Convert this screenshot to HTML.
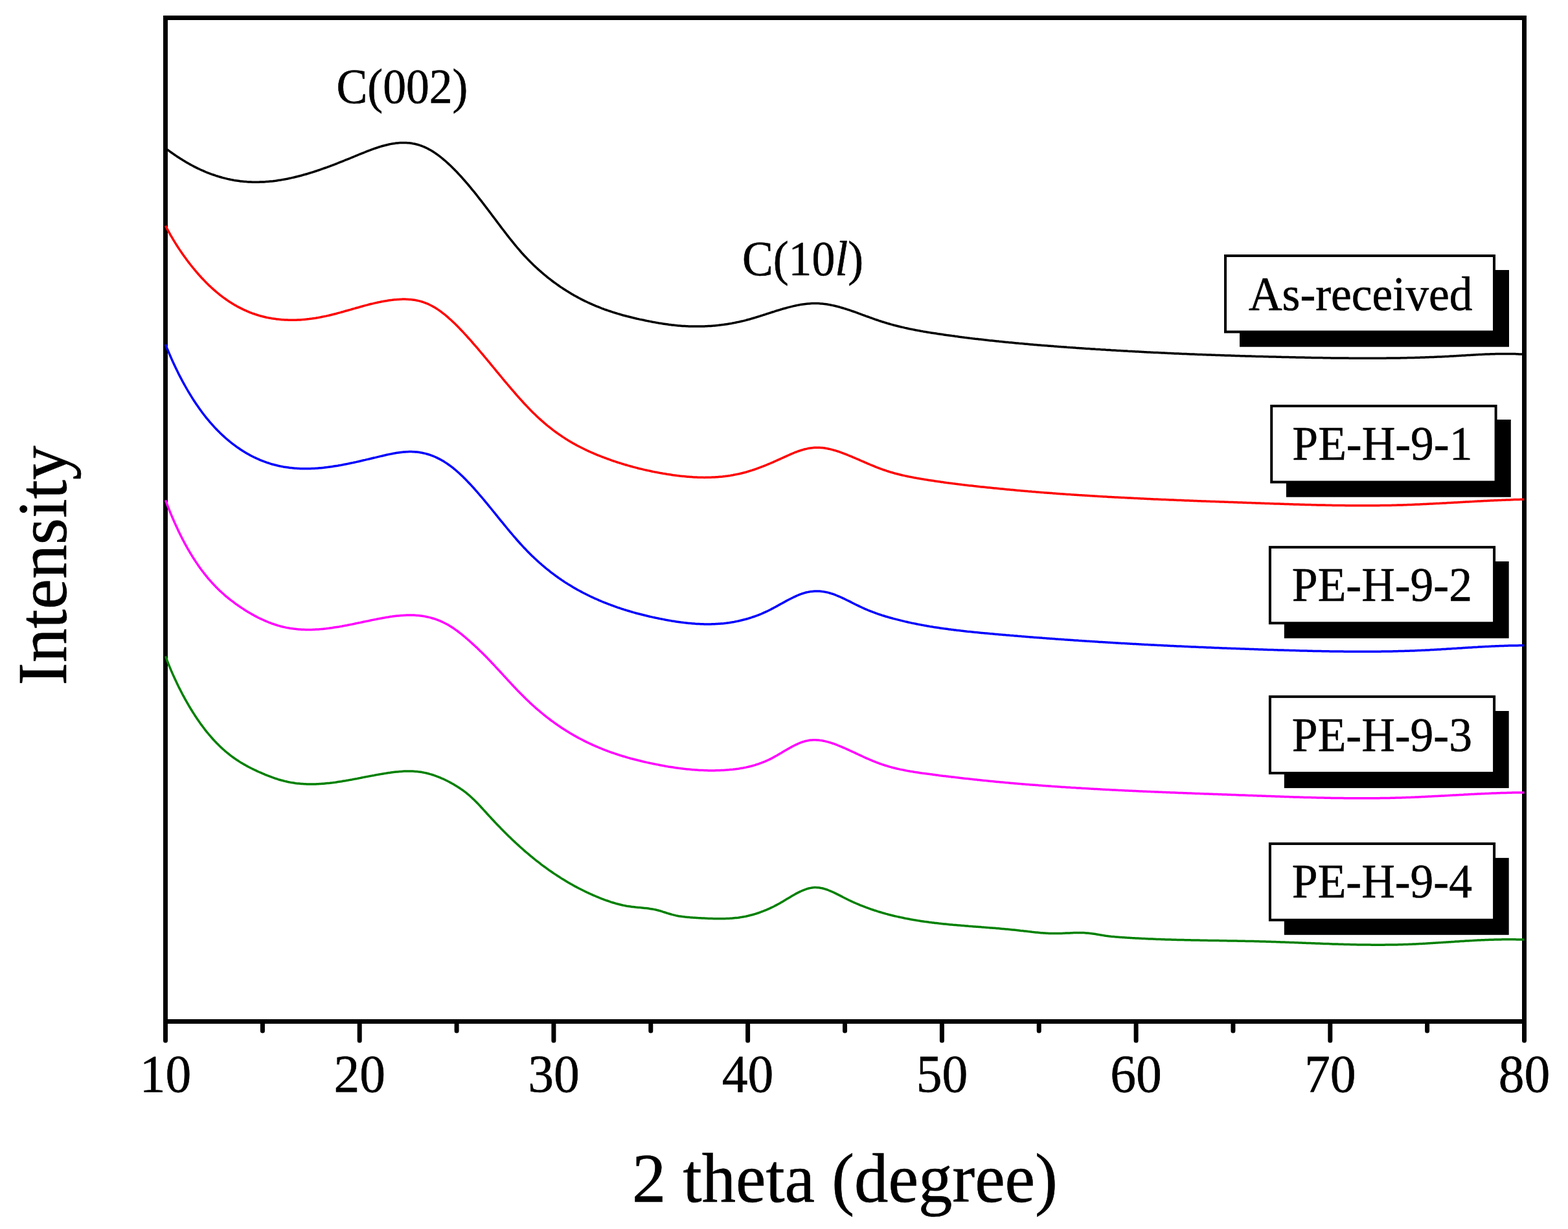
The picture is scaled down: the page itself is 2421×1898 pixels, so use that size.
<!DOCTYPE html>
<html><head><meta charset="utf-8"><title>XRD patterns</title>
<style>html,body{margin:0;padding:0;background:#fff;width:2421px;height:1898px;overflow:hidden}svg{display:block}</style>
</head><body>
<svg width="2421" height="1898" viewBox="0 0 2421 1898">
<rect width="2421" height="1898" fill="#fff"/>
<rect x="255.5" y="27.5" width="2098" height="1550" fill="none" stroke="#000" stroke-width="7"/>
<line x1="255.5" y1="1578" x2="255.5" y2="1607" stroke="#000" stroke-width="7" stroke-linecap="round"/>
<line x1="405.4" y1="1578" x2="405.4" y2="1592" stroke="#000" stroke-width="7" stroke-linecap="round"/>
<line x1="555.2" y1="1578" x2="555.2" y2="1607" stroke="#000" stroke-width="7" stroke-linecap="round"/>
<line x1="705.1" y1="1578" x2="705.1" y2="1592" stroke="#000" stroke-width="7" stroke-linecap="round"/>
<line x1="854.9" y1="1578" x2="854.9" y2="1607" stroke="#000" stroke-width="7" stroke-linecap="round"/>
<line x1="1004.8" y1="1578" x2="1004.8" y2="1592" stroke="#000" stroke-width="7" stroke-linecap="round"/>
<line x1="1154.6" y1="1578" x2="1154.6" y2="1607" stroke="#000" stroke-width="7" stroke-linecap="round"/>
<line x1="1304.5" y1="1578" x2="1304.5" y2="1592" stroke="#000" stroke-width="7" stroke-linecap="round"/>
<line x1="1454.4" y1="1578" x2="1454.4" y2="1607" stroke="#000" stroke-width="7" stroke-linecap="round"/>
<line x1="1604.2" y1="1578" x2="1604.2" y2="1592" stroke="#000" stroke-width="7" stroke-linecap="round"/>
<line x1="1754.1" y1="1578" x2="1754.1" y2="1607" stroke="#000" stroke-width="7" stroke-linecap="round"/>
<line x1="1903.9" y1="1578" x2="1903.9" y2="1592" stroke="#000" stroke-width="7" stroke-linecap="round"/>
<line x1="2053.8" y1="1578" x2="2053.8" y2="1607" stroke="#000" stroke-width="7" stroke-linecap="round"/>
<line x1="2203.6" y1="1578" x2="2203.6" y2="1592" stroke="#000" stroke-width="7" stroke-linecap="round"/>
<line x1="2353.5" y1="1578" x2="2353.5" y2="1607" stroke="#000" stroke-width="7" stroke-linecap="round"/>
<path d="M255.5,228.8L257.5,230.3L259.5,231.8L261.5,233.3L263.5,234.8L265.5,236.2L267.5,237.6L269.5,239.0L271.5,240.4L273.5,241.7L275.5,243.0L277.5,244.3L279.5,245.6L281.5,246.8L283.5,248.1L285.5,249.3L287.5,250.5L289.5,251.6L291.5,252.8L293.5,253.9L295.5,255.0L297.5,256.0L299.5,257.1L301.5,258.1L303.5,259.1L305.5,260.1L307.5,261.0L309.5,262.0L311.5,262.9L313.5,263.7L315.5,264.6L317.5,265.5L319.5,266.3L321.5,267.1L323.5,267.8L325.5,268.6L327.5,269.3L329.5,270.0L331.5,270.7L333.5,271.4L335.5,272.0L337.5,272.6L339.5,273.2L341.5,273.8L343.5,274.4L345.5,274.9L347.5,275.4L349.5,275.9L351.5,276.4L353.5,276.8L355.5,277.2L357.5,277.6L359.5,278.0L361.5,278.4L363.5,278.7L365.5,279.0L367.5,279.3L369.5,279.6L371.5,279.9L373.5,280.1L375.5,280.3L377.5,280.5L379.5,280.6L381.5,280.8L383.5,280.9L385.5,281.0L387.5,281.1L389.5,281.2L391.5,281.2L393.5,281.2L395.5,281.2L397.5,281.2L399.5,281.2L401.5,281.1L403.5,281.1L405.5,281.0L407.5,280.9L409.5,280.8L411.5,280.6L413.5,280.5L415.5,280.3L417.5,280.1L419.5,279.9L421.5,279.7L423.5,279.4L425.5,279.2L427.5,278.9L429.5,278.6L431.5,278.3L433.5,278.0L435.5,277.6L437.5,277.3L439.5,276.9L441.5,276.6L443.5,276.2L445.5,275.8L447.5,275.3L449.5,274.9L451.5,274.4L453.5,274.0L455.5,273.5L457.5,273.0L459.5,272.5L461.5,272.0L463.5,271.5L465.5,271.0L467.5,270.4L469.5,269.8L471.5,269.3L473.5,268.7L475.5,268.1L477.5,267.5L479.5,266.9L481.5,266.3L483.5,265.6L485.5,265.0L487.5,264.3L489.5,263.7L491.5,263.0L493.5,262.3L495.5,261.6L497.5,260.9L499.5,260.2L501.5,259.5L503.5,258.8L505.5,258.1L507.5,257.3L509.5,256.6L511.5,255.8L513.5,255.1L515.5,254.3L517.5,253.6L519.5,252.8L521.5,252.0L523.5,251.2L525.5,250.4L527.5,249.6L529.5,248.8L531.5,248.0L533.5,247.2L535.5,246.4L537.5,245.6L539.5,244.8L541.5,244.0L543.5,243.1L545.5,242.3L547.5,241.5L549.5,240.7L551.5,239.9L553.5,239.0L555.5,238.2L557.5,237.4L559.5,236.6L561.5,235.8L563.5,235.0L565.5,234.2L567.5,233.4L569.5,232.6L571.5,231.9L573.5,231.1L575.5,230.4L577.5,229.7L579.5,229.0L581.5,228.3L583.5,227.7L585.5,227.0L587.5,226.4L589.5,225.8L591.5,225.2L593.5,224.7L595.5,224.2L597.5,223.7L599.5,223.2L601.5,222.8L603.5,222.4L605.5,222.0L607.5,221.7L609.5,221.4L611.5,221.1L613.5,220.9L615.5,220.7L617.5,220.6L619.5,220.5L621.5,220.4L623.5,220.4L625.5,220.4L627.5,220.5L629.5,220.7L631.5,220.8L633.5,221.0L635.5,221.3L637.5,221.7L639.5,222.0L641.5,222.5L643.5,223.0L645.5,223.5L647.5,224.1L649.5,224.8L651.5,225.5L653.5,226.3L655.5,227.2L657.5,228.1L659.5,229.0L661.5,230.1L663.5,231.2L665.5,232.3L667.5,233.5L669.5,234.8L671.5,236.1L673.5,237.5L675.5,238.9L677.5,240.4L679.5,241.9L681.5,243.5L683.5,245.1L685.5,246.8L687.5,248.5L689.5,250.3L691.5,252.1L693.5,253.9L695.5,255.8L697.5,257.7L699.5,259.7L701.5,261.7L703.5,263.8L705.5,265.8L707.5,268.0L709.5,270.1L711.5,272.3L713.5,274.5L715.5,276.8L717.5,279.0L719.5,281.3L721.5,283.7L723.5,286.0L725.5,288.4L727.5,290.9L729.5,293.3L731.5,295.7L733.5,298.2L735.5,300.7L737.5,303.3L739.5,305.8L741.5,308.4L743.5,310.9L745.5,313.5L747.5,316.1L749.5,318.7L751.5,321.4L753.5,324.0L755.5,326.6L757.5,329.3L759.5,332.0L761.5,334.6L763.5,337.3L765.5,339.9L767.5,342.6L769.5,345.3L771.5,347.9L773.5,350.6L775.5,353.2L777.5,355.8L779.5,358.4L781.5,361.0L783.5,363.6L785.5,366.1L787.5,368.7L789.5,371.2L791.5,373.7L793.5,376.1L795.5,378.6L797.5,381.0L799.5,383.3L801.5,385.7L803.5,388.0L805.5,390.3L807.5,392.5L809.5,394.7L811.5,396.8L813.5,398.9L815.5,401.0L817.5,403.0L819.5,405.1L821.5,407.0L823.5,409.0L825.5,410.9L827.5,412.7L829.5,414.6L831.5,416.4L833.5,418.2L835.5,419.9L837.5,421.7L839.5,423.3L841.5,425.0L843.5,426.7L845.5,428.3L847.5,429.9L849.5,431.4L851.5,433.0L853.5,434.5L855.5,436.0L857.5,437.4L859.5,438.9L861.5,440.3L863.5,441.7L865.5,443.1L867.5,444.4L869.5,445.7L871.5,447.0L873.5,448.3L875.5,449.6L877.5,450.8L879.5,452.0L881.5,453.2L883.5,454.4L885.5,455.6L887.5,456.7L889.5,457.8L891.5,458.9L893.5,460.0L895.5,461.0L897.5,462.1L899.5,463.1L901.5,464.1L903.5,465.1L905.5,466.0L907.5,467.0L909.5,467.9L911.5,468.8L913.5,469.7L915.5,470.6L917.5,471.4L919.5,472.3L921.5,473.1L923.5,473.9L925.5,474.7L927.5,475.5L929.5,476.3L931.5,477.0L933.5,477.8L935.5,478.5L937.5,479.2L939.5,479.9L941.5,480.5L943.5,481.2L945.5,481.9L947.5,482.5L949.5,483.1L951.5,483.7L953.5,484.4L955.5,484.9L957.5,485.5L959.5,486.1L961.5,486.7L963.5,487.2L965.5,487.7L967.5,488.3L969.5,488.8L971.5,489.3L973.5,489.8L975.5,490.3L977.5,490.8L979.5,491.2L981.5,491.7L983.5,492.2L985.5,492.6L987.5,493.1L989.5,493.5L991.5,493.9L993.5,494.3L995.5,494.8L997.5,495.2L999.5,495.6L1001.5,496.0L1003.5,496.4L1005.5,496.8L1007.5,497.2L1009.5,497.5L1011.5,497.9L1013.5,498.3L1015.5,498.6L1017.5,499.0L1019.5,499.3L1021.5,499.6L1023.5,499.9L1025.5,500.2L1027.5,500.5L1029.5,500.8L1031.5,501.1L1033.5,501.4L1035.5,501.6L1037.5,501.9L1039.5,502.1L1041.5,502.3L1043.5,502.5L1045.5,502.7L1047.5,502.9L1049.5,503.0L1051.5,503.2L1053.5,503.4L1055.5,503.5L1057.5,503.6L1059.5,503.7L1061.5,503.8L1063.5,503.9L1065.5,504.0L1067.5,504.0L1069.5,504.1L1071.5,504.1L1073.5,504.1L1075.5,504.1L1077.5,504.1L1079.5,504.1L1081.5,504.1L1083.5,504.0L1085.5,504.0L1087.5,503.9L1089.5,503.8L1091.5,503.7L1093.5,503.6L1095.5,503.5L1097.5,503.4L1099.5,503.2L1101.5,503.1L1103.5,502.9L1105.5,502.7L1107.5,502.5L1109.5,502.3L1111.5,502.0L1113.5,501.8L1115.5,501.5L1117.5,501.3L1119.5,501.0L1121.5,500.7L1123.5,500.4L1125.5,500.1L1127.5,499.7L1129.5,499.4L1131.5,499.0L1133.5,498.6L1135.5,498.2L1137.5,497.8L1139.5,497.4L1141.5,497.0L1143.5,496.5L1145.5,496.0L1147.5,495.6L1149.5,495.1L1151.5,494.6L1153.5,494.0L1155.5,493.5L1157.5,493.0L1159.5,492.4L1161.5,491.8L1163.5,491.2L1165.5,490.6L1167.5,490.0L1169.5,489.4L1171.5,488.8L1173.5,488.1L1175.5,487.5L1177.5,486.9L1179.5,486.2L1181.5,485.6L1183.5,484.9L1185.5,484.3L1187.5,483.6L1189.5,483.0L1191.5,482.3L1193.5,481.7L1195.5,481.1L1197.5,480.4L1199.5,479.8L1201.5,479.2L1203.5,478.6L1205.5,478.0L1207.5,477.4L1209.5,476.8L1211.5,476.2L1213.5,475.7L1215.5,475.1L1217.5,474.6L1219.5,474.1L1221.5,473.6L1223.5,473.1L1225.5,472.6L1227.5,472.2L1229.5,471.8L1231.5,471.4L1233.5,471.0L1235.5,470.6L1237.5,470.3L1239.5,470.0L1241.5,469.7L1243.5,469.4L1245.5,469.2L1247.5,469.0L1249.5,468.9L1251.5,468.7L1253.5,468.6L1255.5,468.6L1257.5,468.5L1259.5,468.5L1261.5,468.5L1263.5,468.6L1265.5,468.7L1267.5,468.9L1269.5,469.0L1271.5,469.3L1273.5,469.5L1275.5,469.8L1277.5,470.1L1279.5,470.4L1281.5,470.8L1283.5,471.2L1285.5,471.6L1287.5,472.0L1289.5,472.5L1291.5,473.0L1293.5,473.5L1295.5,474.0L1297.5,474.6L1299.5,475.2L1301.5,475.8L1303.5,476.4L1305.5,477.0L1307.5,477.6L1309.5,478.3L1311.5,478.9L1313.5,479.6L1315.5,480.3L1317.5,481.0L1319.5,481.7L1321.5,482.4L1323.5,483.1L1325.5,483.9L1327.5,484.6L1329.5,485.3L1331.5,486.1L1333.5,486.8L1335.5,487.5L1337.5,488.3L1339.5,489.0L1341.5,489.7L1343.5,490.5L1345.5,491.2L1347.5,491.9L1349.5,492.6L1351.5,493.3L1353.5,494.0L1355.5,494.7L1357.5,495.4L1359.5,496.0L1361.5,496.7L1363.5,497.3L1365.5,497.9L1367.5,498.5L1369.5,499.1L1371.5,499.7L1373.5,500.3L1375.5,500.9L1377.5,501.4L1379.5,502.0L1381.5,502.5L1383.5,503.0L1385.5,503.5L1387.5,504.0L1389.5,504.5L1391.5,505.0L1393.5,505.4L1395.5,505.9L1397.5,506.4L1399.5,506.8L1401.5,507.2L1403.5,507.7L1405.5,508.1L1407.5,508.5L1409.5,508.9L1411.5,509.3L1413.5,509.7L1415.5,510.1L1417.5,510.4L1419.5,510.8L1421.5,511.2L1423.5,511.5L1425.5,511.9L1427.5,512.2L1429.5,512.6L1431.5,512.9L1433.5,513.2L1435.5,513.6L1437.5,513.9L1439.5,514.2L1441.5,514.5L1443.5,514.8L1445.5,515.1L1447.5,515.4L1449.5,515.7L1451.5,516.0L1453.5,516.3L1455.5,516.6L1457.5,516.9L1459.5,517.2L1461.5,517.5L1463.5,517.7L1465.5,518.0L1467.5,518.3L1469.5,518.6L1471.5,518.8L1473.5,519.1L1475.5,519.4L1477.5,519.6L1479.5,519.9L1481.5,520.2L1483.5,520.4L1485.5,520.7L1487.5,520.9L1489.5,521.2L1491.5,521.4L1493.5,521.7L1495.5,521.9L1497.5,522.2L1499.5,522.4L1501.5,522.7L1503.5,522.9L1505.5,523.2L1507.5,523.4L1509.5,523.6L1511.5,523.9L1513.5,524.1L1515.5,524.3L1517.5,524.5L1519.5,524.8L1521.5,525.0L1523.5,525.2L1525.5,525.4L1527.5,525.7L1529.5,525.9L1531.5,526.1L1533.5,526.3L1535.5,526.5L1537.5,526.7L1539.5,526.9L1541.5,527.1L1543.5,527.4L1545.5,527.6L1547.5,527.8L1549.5,528.0L1551.5,528.2L1553.5,528.4L1555.5,528.6L1557.5,528.8L1559.5,528.9L1561.5,529.1L1563.5,529.3L1565.5,529.5L1567.5,529.7L1569.5,529.9L1571.5,530.1L1573.5,530.3L1575.5,530.4L1577.5,530.6L1579.5,530.8L1581.5,531.0L1583.5,531.2L1585.5,531.3L1587.5,531.5L1589.5,531.7L1591.5,531.9L1593.5,532.0L1595.5,532.2L1597.5,532.4L1599.5,532.5L1601.5,532.7L1603.5,532.9L1605.5,533.0L1607.5,533.2L1609.5,533.4L1611.5,533.5L1613.5,533.7L1615.5,533.8L1617.5,534.0L1619.5,534.2L1621.5,534.3L1623.5,534.5L1625.5,534.6L1627.5,534.8L1629.5,534.9L1631.5,535.1L1633.5,535.2L1635.5,535.4L1637.5,535.5L1639.5,535.7L1641.5,535.8L1643.5,536.0L1645.5,536.1L1647.5,536.3L1649.5,536.4L1651.5,536.6L1653.5,536.7L1655.5,536.8L1657.5,537.0L1659.5,537.1L1661.5,537.3L1663.5,537.4L1665.5,537.5L1667.5,537.7L1669.5,537.8L1671.5,537.9L1673.5,538.1L1675.5,538.2L1677.5,538.4L1679.5,538.5L1681.5,538.6L1683.5,538.7L1685.5,538.9L1687.5,539.0L1689.5,539.1L1691.5,539.3L1693.5,539.4L1695.5,539.5L1697.5,539.6L1699.5,539.8L1701.5,539.9L1703.5,540.0L1705.5,540.1L1707.5,540.3L1709.5,540.4L1711.5,540.5L1713.5,540.6L1715.5,540.8L1717.5,540.9L1719.5,541.0L1721.5,541.1L1723.5,541.2L1725.5,541.4L1727.5,541.5L1729.5,541.6L1731.5,541.7L1733.5,541.8L1735.5,541.9L1737.5,542.0L1739.5,542.1L1741.5,542.3L1743.5,542.4L1745.5,542.5L1747.5,542.6L1749.5,542.7L1751.5,542.8L1753.5,542.9L1755.5,543.0L1757.5,543.1L1759.5,543.2L1761.5,543.3L1763.5,543.4L1765.5,543.5L1767.5,543.7L1769.5,543.8L1771.5,543.9L1773.5,544.0L1775.5,544.1L1777.5,544.2L1779.5,544.3L1781.5,544.4L1783.5,544.5L1785.5,544.6L1787.5,544.6L1789.5,544.7L1791.5,544.8L1793.5,544.9L1795.5,545.0L1797.5,545.1L1799.5,545.2L1801.5,545.3L1803.5,545.4L1805.5,545.5L1807.5,545.6L1809.5,545.7L1811.5,545.8L1813.5,545.9L1815.5,545.9L1817.5,546.0L1819.5,546.1L1821.5,546.2L1823.5,546.3L1825.5,546.4L1827.5,546.5L1829.5,546.5L1831.5,546.6L1833.5,546.7L1835.5,546.8L1837.5,546.9L1839.5,547.0L1841.5,547.0L1843.5,547.1L1845.5,547.2L1847.5,547.3L1849.5,547.4L1851.5,547.4L1853.5,547.5L1855.5,547.6L1857.5,547.7L1859.5,547.7L1861.5,547.8L1863.5,547.9L1865.5,548.0L1867.5,548.0L1869.5,548.1L1871.5,548.2L1873.5,548.3L1875.5,548.3L1877.5,548.4L1879.5,548.5L1881.5,548.5L1883.5,548.6L1885.5,548.7L1887.5,548.7L1889.5,548.8L1891.5,548.9L1893.5,548.9L1895.5,549.0L1897.5,549.1L1899.5,549.1L1901.5,549.2L1903.5,549.3L1905.5,549.3L1907.5,549.4L1909.5,549.5L1911.5,549.5L1913.5,549.6L1915.5,549.7L1917.5,549.7L1919.5,549.8L1921.5,549.8L1923.5,549.9L1925.5,550.0L1927.5,550.0L1929.5,550.1L1931.5,550.1L1933.5,550.2L1935.5,550.2L1937.5,550.3L1939.5,550.4L1941.5,550.4L1943.5,550.5L1945.5,550.5L1947.5,550.6L1949.5,550.6L1951.5,550.7L1953.5,550.7L1955.5,550.8L1957.5,550.8L1959.5,550.9L1961.5,550.9L1963.5,551.0L1965.5,551.0L1967.5,551.1L1969.5,551.1L1971.5,551.2L1973.5,551.2L1975.5,551.3L1977.5,551.3L1979.5,551.4L1981.5,551.4L1983.5,551.5L1985.5,551.5L1987.5,551.6L1989.5,551.6L1991.5,551.7L1993.5,551.7L1995.5,551.7L1997.5,551.8L1999.5,551.8L2001.5,551.9L2003.5,551.9L2005.5,552.0L2007.5,552.0L2009.5,552.0L2011.5,552.1L2013.5,552.1L2015.5,552.2L2017.5,552.2L2019.5,552.2L2021.5,552.3L2023.5,552.3L2025.5,552.4L2027.5,552.4L2029.5,552.4L2031.5,552.5L2033.5,552.5L2035.5,552.5L2037.5,552.6L2039.5,552.6L2041.5,552.6L2043.5,552.7L2045.5,552.7L2047.5,552.7L2049.5,552.8L2051.5,552.8L2053.5,552.8L2055.5,552.9L2057.5,552.9L2059.5,552.9L2061.5,552.9L2063.5,553.0L2065.5,553.0L2067.5,553.0L2069.5,553.0L2071.5,553.0L2073.5,553.1L2075.5,553.1L2077.5,553.1L2079.5,553.1L2081.5,553.1L2083.5,553.2L2085.5,553.2L2087.5,553.2L2089.5,553.2L2091.5,553.2L2093.5,553.2L2095.5,553.2L2097.5,553.2L2099.5,553.3L2101.5,553.3L2103.5,553.3L2105.5,553.3L2107.5,553.3L2109.5,553.3L2111.5,553.3L2113.5,553.3L2115.5,553.3L2117.5,553.3L2119.5,553.3L2121.5,553.3L2123.5,553.3L2125.5,553.2L2127.5,553.2L2129.5,553.2L2131.5,553.2L2133.5,553.2L2135.5,553.2L2137.5,553.2L2139.5,553.2L2141.5,553.1L2143.5,553.1L2145.5,553.1L2147.5,553.1L2149.5,553.0L2151.5,553.0L2153.5,553.0L2155.5,553.0L2157.5,552.9L2159.5,552.9L2161.5,552.9L2163.5,552.8L2165.5,552.8L2167.5,552.8L2169.5,552.7L2171.5,552.7L2173.5,552.6L2175.5,552.6L2177.5,552.5L2179.5,552.5L2181.5,552.4L2183.5,552.4L2185.5,552.3L2187.5,552.3L2189.5,552.2L2191.5,552.2L2193.5,552.1L2195.5,552.0L2197.5,552.0L2199.5,551.9L2201.5,551.8L2203.5,551.8L2205.5,551.7L2207.5,551.6L2209.5,551.5L2211.5,551.5L2213.5,551.4L2215.5,551.3L2217.5,551.2L2219.5,551.1L2221.5,551.0L2223.5,550.9L2225.5,550.9L2227.5,550.8L2229.5,550.7L2231.5,550.6L2233.5,550.5L2235.5,550.4L2237.5,550.2L2239.5,550.1L2241.5,550.0L2243.5,549.9L2245.5,549.8L2247.5,549.7L2249.5,549.6L2251.5,549.5L2253.5,549.3L2255.5,549.2L2257.5,549.1L2259.5,549.0L2261.5,548.9L2263.5,548.7L2265.5,548.6L2267.5,548.5L2269.5,548.4L2271.5,548.3L2273.5,548.2L2275.5,548.0L2277.5,547.9L2279.5,547.8L2281.5,547.7L2283.5,547.6L2285.5,547.5L2287.5,547.4L2289.5,547.3L2291.5,547.2L2293.5,547.1L2295.5,547.1L2297.5,547.0L2299.5,546.9L2301.5,546.8L2303.5,546.8L2305.5,546.7L2307.5,546.7L2309.5,546.6L2311.5,546.6L2313.5,546.5L2315.5,546.5L2317.5,546.5L2319.5,546.4L2321.5,546.4L2323.5,546.4L2325.5,546.4L2327.5,546.4L2329.5,546.4L2331.5,546.5L2333.5,546.5L2335.5,546.5L2337.5,546.6L2339.5,546.6L2341.5,546.7L2343.5,546.8L2345.5,546.9L2347.5,547.0L2349.5,547.1L2351.5,547.2L2353.5,547.3" fill="none" stroke="#000000" stroke-width="3.5" stroke-linejoin="round"/>
<path d="M255.5,348.6L257.5,352.4L259.5,356.1L261.5,359.7L263.5,363.3L265.5,366.7L267.5,370.1L269.5,373.4L271.5,376.6L273.5,379.8L275.5,382.9L277.5,385.9L279.5,388.8L281.5,391.7L283.5,394.6L285.5,397.3L287.5,400.1L289.5,402.7L291.5,405.4L293.5,408.0L295.5,410.5L297.5,413.0L299.5,415.4L301.5,417.8L303.5,420.2L305.5,422.5L307.5,424.8L309.5,427.0L311.5,429.2L313.5,431.3L315.5,433.4L317.5,435.5L319.5,437.5L321.5,439.4L323.5,441.4L325.5,443.2L327.5,445.1L329.5,446.9L331.5,448.6L333.5,450.4L335.5,452.0L337.5,453.7L339.5,455.3L341.5,456.9L343.5,458.4L345.5,459.9L347.5,461.3L349.5,462.7L351.5,464.1L353.5,465.5L355.5,466.8L357.5,468.0L359.5,469.3L361.5,470.5L363.5,471.6L365.5,472.8L367.5,473.9L369.5,474.9L371.5,475.9L373.5,476.9L375.5,477.9L377.5,478.8L379.5,479.7L381.5,480.6L383.5,481.4L385.5,482.3L387.5,483.0L389.5,483.8L391.5,484.5L393.5,485.2L395.5,485.8L397.5,486.5L399.5,487.1L401.5,487.7L403.5,488.2L405.5,488.7L407.5,489.2L409.5,489.7L411.5,490.2L413.5,490.6L415.5,491.0L417.5,491.3L419.5,491.7L421.5,492.0L423.5,492.3L425.5,492.6L427.5,492.9L429.5,493.1L431.5,493.3L433.5,493.5L435.5,493.7L437.5,493.8L439.5,493.9L441.5,494.0L443.5,494.1L445.5,494.2L447.5,494.2L449.5,494.3L451.5,494.3L453.5,494.2L455.5,494.2L457.5,494.2L459.5,494.1L461.5,494.0L463.5,493.9L465.5,493.7L467.5,493.6L469.5,493.4L471.5,493.2L473.5,493.0L475.5,492.8L477.5,492.6L479.5,492.3L481.5,492.1L483.5,491.8L485.5,491.5L487.5,491.2L489.5,490.8L491.5,490.5L493.5,490.1L495.5,489.7L497.5,489.3L499.5,488.9L501.5,488.5L503.5,488.1L505.5,487.6L507.5,487.2L509.5,486.7L511.5,486.2L513.5,485.7L515.5,485.2L517.5,484.7L519.5,484.2L521.5,483.6L523.5,483.1L525.5,482.6L527.5,482.0L529.5,481.5L531.5,480.9L533.5,480.3L535.5,479.8L537.5,479.2L539.5,478.6L541.5,478.1L543.5,477.5L545.5,476.9L547.5,476.4L549.5,475.8L551.5,475.2L553.5,474.7L555.5,474.1L557.5,473.5L559.5,473.0L561.5,472.4L563.5,471.9L565.5,471.4L567.5,470.9L569.5,470.3L571.5,469.8L573.5,469.3L575.5,468.9L577.5,468.4L579.5,467.9L581.5,467.5L583.5,467.0L585.5,466.6L587.5,466.2L589.5,465.8L591.5,465.4L593.5,465.1L595.5,464.7L597.5,464.4L599.5,464.1L601.5,463.8L603.5,463.5L605.5,463.3L607.5,463.0L609.5,462.8L611.5,462.7L613.5,462.5L615.5,462.4L617.5,462.2L619.5,462.2L621.5,462.1L623.5,462.1L625.5,462.1L627.5,462.2L629.5,462.2L631.5,462.4L633.5,462.5L635.5,462.7L637.5,463.0L639.5,463.3L641.5,463.6L643.5,464.0L645.5,464.4L647.5,464.9L649.5,465.4L651.5,466.0L653.5,466.6L655.5,467.3L657.5,468.1L659.5,468.9L661.5,469.7L663.5,470.7L665.5,471.7L667.5,472.7L669.5,473.9L671.5,475.0L673.5,476.3L675.5,477.6L677.5,478.9L679.5,480.4L681.5,481.8L683.5,483.3L685.5,484.9L687.5,486.5L689.5,488.2L691.5,489.9L693.5,491.7L695.5,493.5L697.5,495.3L699.5,497.2L701.5,499.1L703.5,501.0L705.5,503.0L707.5,505.0L709.5,507.1L711.5,509.2L713.5,511.3L715.5,513.4L717.5,515.6L719.5,517.7L721.5,520.0L723.5,522.2L725.5,524.4L727.5,526.7L729.5,529.0L731.5,531.3L733.5,533.6L735.5,535.9L737.5,538.2L739.5,540.6L741.5,543.0L743.5,545.3L745.5,547.7L747.5,550.1L749.5,552.5L751.5,554.9L753.5,557.3L755.5,559.7L757.5,562.2L759.5,564.6L761.5,567.0L763.5,569.4L765.5,571.9L767.5,574.3L769.5,576.7L771.5,579.1L773.5,581.5L775.5,584.0L777.5,586.4L779.5,588.8L781.5,591.1L783.5,593.5L785.5,595.9L787.5,598.2L789.5,600.6L791.5,602.9L793.5,605.2L795.5,607.5L797.5,609.8L799.5,612.1L801.5,614.4L803.5,616.6L805.5,618.8L807.5,621.0L809.5,623.2L811.5,625.3L813.5,627.4L815.5,629.5L817.5,631.6L819.5,633.7L821.5,635.7L823.5,637.7L825.5,639.6L827.5,641.5L829.5,643.4L831.5,645.3L833.5,647.1L835.5,648.9L837.5,650.7L839.5,652.4L841.5,654.2L843.5,655.8L845.5,657.5L847.5,659.1L849.5,660.7L851.5,662.2L853.5,663.8L855.5,665.3L857.5,666.8L859.5,668.2L861.5,669.6L863.5,671.0L865.5,672.4L867.5,673.8L869.5,675.1L871.5,676.4L873.5,677.7L875.5,678.9L877.5,680.2L879.5,681.4L881.5,682.6L883.5,683.7L885.5,684.9L887.5,686.0L889.5,687.1L891.5,688.2L893.5,689.2L895.5,690.3L897.5,691.3L899.5,692.3L901.5,693.3L903.5,694.3L905.5,695.2L907.5,696.2L909.5,697.1L911.5,698.0L913.5,698.9L915.5,699.7L917.5,700.6L919.5,701.4L921.5,702.3L923.5,703.1L925.5,703.9L927.5,704.7L929.5,705.5L931.5,706.2L933.5,707.0L935.5,707.7L937.5,708.5L939.5,709.2L941.5,709.9L943.5,710.6L945.5,711.3L947.5,712.0L949.5,712.6L951.5,713.3L953.5,714.0L955.5,714.6L957.5,715.2L959.5,715.9L961.5,716.5L963.5,717.1L965.5,717.7L967.5,718.3L969.5,718.9L971.5,719.4L973.5,720.0L975.5,720.5L977.5,721.1L979.5,721.6L981.5,722.1L983.5,722.6L985.5,723.2L987.5,723.7L989.5,724.1L991.5,724.6L993.5,725.1L995.5,725.6L997.5,726.0L999.5,726.5L1001.5,726.9L1003.5,727.3L1005.5,727.7L1007.5,728.2L1009.5,728.6L1011.5,729.0L1013.5,729.3L1015.5,729.7L1017.5,730.1L1019.5,730.5L1021.5,730.8L1023.5,731.2L1025.5,731.5L1027.5,731.8L1029.5,732.2L1031.5,732.5L1033.5,732.8L1035.5,733.1L1037.5,733.4L1039.5,733.7L1041.5,733.9L1043.5,734.2L1045.5,734.5L1047.5,734.7L1049.5,735.0L1051.5,735.2L1053.5,735.4L1055.5,735.6L1057.5,735.8L1059.5,736.0L1061.5,736.2L1063.5,736.3L1065.5,736.5L1067.5,736.6L1069.5,736.8L1071.5,736.9L1073.5,737.0L1075.5,737.1L1077.5,737.2L1079.5,737.2L1081.5,737.3L1083.5,737.3L1085.5,737.3L1087.5,737.4L1089.5,737.3L1091.5,737.3L1093.5,737.3L1095.5,737.3L1097.5,737.2L1099.5,737.1L1101.5,737.0L1103.5,736.9L1105.5,736.8L1107.5,736.7L1109.5,736.5L1111.5,736.3L1113.5,736.2L1115.5,736.0L1117.5,735.7L1119.5,735.5L1121.5,735.2L1123.5,735.0L1125.5,734.7L1127.5,734.4L1129.5,734.0L1131.5,733.7L1133.5,733.3L1135.5,732.9L1137.5,732.5L1139.5,732.1L1141.5,731.7L1143.5,731.2L1145.5,730.7L1147.5,730.2L1149.5,729.7L1151.5,729.2L1153.5,728.6L1155.5,728.0L1157.5,727.4L1159.5,726.8L1161.5,726.1L1163.5,725.5L1165.5,724.8L1167.5,724.1L1169.5,723.4L1171.5,722.6L1173.5,721.9L1175.5,721.1L1177.5,720.4L1179.5,719.6L1181.5,718.8L1183.5,718.0L1185.5,717.1L1187.5,716.3L1189.5,715.5L1191.5,714.6L1193.5,713.8L1195.5,712.9L1197.5,712.0L1199.5,711.1L1201.5,710.2L1203.5,709.3L1205.5,708.4L1207.5,707.5L1209.5,706.6L1211.5,705.7L1213.5,704.8L1215.5,703.9L1217.5,703.0L1219.5,702.1L1221.5,701.2L1223.5,700.4L1225.5,699.5L1227.5,698.7L1229.5,698.0L1231.5,697.2L1233.5,696.5L1235.5,695.8L1237.5,695.2L1239.5,694.6L1241.5,694.0L1243.5,693.5L1245.5,693.1L1247.5,692.6L1249.5,692.3L1251.5,692.0L1253.5,691.7L1255.5,691.5L1257.5,691.3L1259.5,691.2L1261.5,691.2L1263.5,691.2L1265.5,691.3L1267.5,691.4L1269.5,691.6L1271.5,691.8L1273.5,692.1L1275.5,692.4L1277.5,692.8L1279.5,693.2L1281.5,693.6L1283.5,694.1L1285.5,694.6L1287.5,695.2L1289.5,695.7L1291.5,696.4L1293.5,697.0L1295.5,697.7L1297.5,698.4L1299.5,699.1L1301.5,699.8L1303.5,700.6L1305.5,701.4L1307.5,702.2L1309.5,703.0L1311.5,703.8L1313.5,704.6L1315.5,705.4L1317.5,706.3L1319.5,707.1L1321.5,708.0L1323.5,708.9L1325.5,709.7L1327.5,710.6L1329.5,711.5L1331.5,712.3L1333.5,713.2L1335.5,714.1L1337.5,714.9L1339.5,715.8L1341.5,716.6L1343.5,717.5L1345.5,718.3L1347.5,719.1L1349.5,719.9L1351.5,720.8L1353.5,721.6L1355.5,722.3L1357.5,723.1L1359.5,723.9L1361.5,724.6L1363.5,725.3L1365.5,726.0L1367.5,726.7L1369.5,727.4L1371.5,728.0L1373.5,728.6L1375.5,729.3L1377.5,729.8L1379.5,730.4L1381.5,731.0L1383.5,731.5L1385.5,732.0L1387.5,732.5L1389.5,733.0L1391.5,733.5L1393.5,734.0L1395.5,734.4L1397.5,734.9L1399.5,735.3L1401.5,735.7L1403.5,736.1L1405.5,736.5L1407.5,736.9L1409.5,737.3L1411.5,737.7L1413.5,738.0L1415.5,738.4L1417.5,738.7L1419.5,739.1L1421.5,739.4L1423.5,739.8L1425.5,740.1L1427.5,740.4L1429.5,740.7L1431.5,741.1L1433.5,741.4L1435.5,741.7L1437.5,742.0L1439.5,742.3L1441.5,742.6L1443.5,742.9L1445.5,743.2L1447.5,743.5L1449.5,743.8L1451.5,744.1L1453.5,744.4L1455.5,744.6L1457.5,744.9L1459.5,745.2L1461.5,745.5L1463.5,745.7L1465.5,746.0L1467.5,746.2L1469.5,746.5L1471.5,746.8L1473.5,747.0L1475.5,747.3L1477.5,747.5L1479.5,747.8L1481.5,748.0L1483.5,748.2L1485.5,748.5L1487.5,748.7L1489.5,749.0L1491.5,749.2L1493.5,749.4L1495.5,749.7L1497.5,749.9L1499.5,750.1L1501.5,750.3L1503.5,750.6L1505.5,750.8L1507.5,751.0L1509.5,751.2L1511.5,751.4L1513.5,751.7L1515.5,751.9L1517.5,752.1L1519.5,752.3L1521.5,752.5L1523.5,752.7L1525.5,752.9L1527.5,753.1L1529.5,753.3L1531.5,753.5L1533.5,753.7L1535.5,753.9L1537.5,754.1L1539.5,754.3L1541.5,754.5L1543.5,754.7L1545.5,754.9L1547.5,755.1L1549.5,755.3L1551.5,755.5L1553.5,755.7L1555.5,755.9L1557.5,756.1L1559.5,756.3L1561.5,756.5L1563.5,756.6L1565.5,756.8L1567.5,757.0L1569.5,757.2L1571.5,757.4L1573.5,757.5L1575.5,757.7L1577.5,757.9L1579.5,758.1L1581.5,758.2L1583.5,758.4L1585.5,758.6L1587.5,758.8L1589.5,758.9L1591.5,759.1L1593.5,759.3L1595.5,759.4L1597.5,759.6L1599.5,759.8L1601.5,759.9L1603.5,760.1L1605.5,760.2L1607.5,760.4L1609.5,760.6L1611.5,760.7L1613.5,760.9L1615.5,761.0L1617.5,761.2L1619.5,761.3L1621.5,761.5L1623.5,761.6L1625.5,761.8L1627.5,761.9L1629.5,762.1L1631.5,762.2L1633.5,762.4L1635.5,762.5L1637.5,762.7L1639.5,762.8L1641.5,762.9L1643.5,763.1L1645.5,763.2L1647.5,763.4L1649.5,763.5L1651.5,763.6L1653.5,763.8L1655.5,763.9L1657.5,764.0L1659.5,764.2L1661.5,764.3L1663.5,764.4L1665.5,764.6L1667.5,764.7L1669.5,764.8L1671.5,765.0L1673.5,765.1L1675.5,765.2L1677.5,765.3L1679.5,765.5L1681.5,765.6L1683.5,765.7L1685.5,765.8L1687.5,766.0L1689.5,766.1L1691.5,766.2L1693.5,766.3L1695.5,766.4L1697.5,766.6L1699.5,766.7L1701.5,766.8L1703.5,766.9L1705.5,767.0L1707.5,767.1L1709.5,767.2L1711.5,767.4L1713.5,767.5L1715.5,767.6L1717.5,767.7L1719.5,767.8L1721.5,767.9L1723.5,768.0L1725.5,768.1L1727.5,768.2L1729.5,768.3L1731.5,768.4L1733.5,768.5L1735.5,768.6L1737.5,768.7L1739.5,768.8L1741.5,768.9L1743.5,769.0L1745.5,769.1L1747.5,769.2L1749.5,769.3L1751.5,769.4L1753.5,769.5L1755.5,769.6L1757.5,769.7L1759.5,769.8L1761.5,769.9L1763.5,770.0L1765.5,770.1L1767.5,770.2L1769.5,770.3L1771.5,770.4L1773.5,770.5L1775.5,770.6L1777.5,770.7L1779.5,770.8L1781.5,770.9L1783.5,770.9L1785.5,771.0L1787.5,771.1L1789.5,771.2L1791.5,771.3L1793.5,771.4L1795.5,771.5L1797.5,771.6L1799.5,771.6L1801.5,771.7L1803.5,771.8L1805.5,771.9L1807.5,772.0L1809.5,772.1L1811.5,772.1L1813.5,772.2L1815.5,772.3L1817.5,772.4L1819.5,772.5L1821.5,772.6L1823.5,772.6L1825.5,772.7L1827.5,772.8L1829.5,772.9L1831.5,773.0L1833.5,773.0L1835.5,773.1L1837.5,773.2L1839.5,773.3L1841.5,773.3L1843.5,773.4L1845.5,773.5L1847.5,773.6L1849.5,773.7L1851.5,773.7L1853.5,773.8L1855.5,773.9L1857.5,774.0L1859.5,774.0L1861.5,774.1L1863.5,774.2L1865.5,774.3L1867.5,774.3L1869.5,774.4L1871.5,774.5L1873.5,774.6L1875.5,774.6L1877.5,774.7L1879.5,774.8L1881.5,774.8L1883.5,774.9L1885.5,775.0L1887.5,775.1L1889.5,775.1L1891.5,775.2L1893.5,775.3L1895.5,775.3L1897.5,775.4L1899.5,775.5L1901.5,775.6L1903.5,775.6L1905.5,775.7L1907.5,775.8L1909.5,775.8L1911.5,775.9L1913.5,776.0L1915.5,776.1L1917.5,776.1L1919.5,776.2L1921.5,776.3L1923.5,776.3L1925.5,776.4L1927.5,776.5L1929.5,776.5L1931.5,776.6L1933.5,776.7L1935.5,776.8L1937.5,776.8L1939.5,776.9L1941.5,777.0L1943.5,777.0L1945.5,777.1L1947.5,777.2L1949.5,777.2L1951.5,777.3L1953.5,777.4L1955.5,777.5L1957.5,777.5L1959.5,777.6L1961.5,777.7L1963.5,777.7L1965.5,777.8L1967.5,777.9L1969.5,777.9L1971.5,778.0L1973.5,778.1L1975.5,778.1L1977.5,778.2L1979.5,778.3L1981.5,778.3L1983.5,778.4L1985.5,778.5L1987.5,778.5L1989.5,778.6L1991.5,778.7L1993.5,778.7L1995.5,778.8L1997.5,778.9L1999.5,778.9L2001.5,779.0L2003.5,779.0L2005.5,779.1L2007.5,779.2L2009.5,779.2L2011.5,779.3L2013.5,779.3L2015.5,779.4L2017.5,779.5L2019.5,779.5L2021.5,779.6L2023.5,779.6L2025.5,779.7L2027.5,779.7L2029.5,779.8L2031.5,779.8L2033.5,779.9L2035.5,779.9L2037.5,780.0L2039.5,780.0L2041.5,780.1L2043.5,780.1L2045.5,780.1L2047.5,780.2L2049.5,780.2L2051.5,780.3L2053.5,780.3L2055.5,780.3L2057.5,780.4L2059.5,780.4L2061.5,780.4L2063.5,780.5L2065.5,780.5L2067.5,780.5L2069.5,780.6L2071.5,780.6L2073.5,780.6L2075.5,780.6L2077.5,780.7L2079.5,780.7L2081.5,780.7L2083.5,780.7L2085.5,780.7L2087.5,780.8L2089.5,780.8L2091.5,780.8L2093.5,780.8L2095.5,780.8L2097.5,780.8L2099.5,780.8L2101.5,780.8L2103.5,780.8L2105.5,780.8L2107.5,780.8L2109.5,780.8L2111.5,780.8L2113.5,780.8L2115.5,780.8L2117.5,780.8L2119.5,780.8L2121.5,780.7L2123.5,780.7L2125.5,780.7L2127.5,780.7L2129.5,780.7L2131.5,780.6L2133.5,780.6L2135.5,780.6L2137.5,780.5L2139.5,780.5L2141.5,780.5L2143.5,780.4L2145.5,780.4L2147.5,780.4L2149.5,780.3L2151.5,780.3L2153.5,780.2L2155.5,780.2L2157.5,780.1L2159.5,780.0L2161.5,780.0L2163.5,779.9L2165.5,779.9L2167.5,779.8L2169.5,779.7L2171.5,779.7L2173.5,779.6L2175.5,779.5L2177.5,779.4L2179.5,779.4L2181.5,779.3L2183.5,779.2L2185.5,779.1L2187.5,779.0L2189.5,779.0L2191.5,778.9L2193.5,778.8L2195.5,778.7L2197.5,778.6L2199.5,778.5L2201.5,778.4L2203.5,778.3L2205.5,778.2L2207.5,778.1L2209.5,778.0L2211.5,777.9L2213.5,777.8L2215.5,777.7L2217.5,777.6L2219.5,777.5L2221.5,777.4L2223.5,777.3L2225.5,777.2L2227.5,777.1L2229.5,777.0L2231.5,776.9L2233.5,776.8L2235.5,776.6L2237.5,776.5L2239.5,776.4L2241.5,776.3L2243.5,776.2L2245.5,776.1L2247.5,776.0L2249.5,775.9L2251.5,775.8L2253.5,775.7L2255.5,775.5L2257.5,775.4L2259.5,775.3L2261.5,775.2L2263.5,775.1L2265.5,775.0L2267.5,774.9L2269.5,774.8L2271.5,774.7L2273.5,774.6L2275.5,774.4L2277.5,774.3L2279.5,774.2L2281.5,774.1L2283.5,774.0L2285.5,773.9L2287.5,773.8L2289.5,773.7L2291.5,773.6L2293.5,773.5L2295.5,773.4L2297.5,773.3L2299.5,773.2L2301.5,773.1L2303.5,773.0L2305.5,772.9L2307.5,772.8L2309.5,772.7L2311.5,772.7L2313.5,772.6L2315.5,772.5L2317.5,772.4L2319.5,772.3L2321.5,772.2L2323.5,772.2L2325.5,772.1L2327.5,772.0L2329.5,771.9L2331.5,771.9L2333.5,771.8L2335.5,771.7L2337.5,771.6L2339.5,771.6L2341.5,771.5L2343.5,771.5L2345.5,771.4L2347.5,771.3L2349.5,771.3L2351.5,771.2L2353.3,771.2" fill="none" stroke="#ff0000" stroke-width="3.5" stroke-linejoin="round"/>
<path d="M255.5,531.8L257.5,536.8L259.5,541.7L261.5,546.4L263.5,551.0L265.5,555.6L267.5,560.0L269.5,564.3L271.5,568.5L273.5,572.6L275.5,576.7L277.5,580.6L279.5,584.4L281.5,588.2L283.5,591.9L285.5,595.5L287.5,599.0L289.5,602.5L291.5,605.9L293.5,609.2L295.5,612.4L297.5,615.6L299.5,618.7L301.5,621.7L303.5,624.7L305.5,627.6L307.5,630.5L309.5,633.3L311.5,636.0L313.5,638.7L315.5,641.3L317.5,643.8L319.5,646.3L321.5,648.7L323.5,651.1L325.5,653.4L327.5,655.7L329.5,657.9L331.5,660.1L333.5,662.2L335.5,664.3L337.5,666.3L339.5,668.3L341.5,670.2L343.5,672.1L345.5,673.9L347.5,675.7L349.5,677.5L351.5,679.2L353.5,680.8L355.5,682.5L357.5,684.1L359.5,685.6L361.5,687.1L363.5,688.6L365.5,690.1L367.5,691.5L369.5,692.8L371.5,694.2L373.5,695.5L375.5,696.8L377.5,698.0L379.5,699.2L381.5,700.4L383.5,701.5L385.5,702.6L387.5,703.7L389.5,704.7L391.5,705.7L393.5,706.7L395.5,707.6L397.5,708.5L399.5,709.4L401.5,710.3L403.5,711.1L405.5,711.9L407.5,712.7L409.5,713.4L411.5,714.1L413.5,714.8L415.5,715.4L417.5,716.1L419.5,716.7L421.5,717.2L423.5,717.8L425.5,718.3L427.5,718.8L429.5,719.3L431.5,719.7L433.5,720.1L435.5,720.5L437.5,720.9L439.5,721.2L441.5,721.5L443.5,721.8L445.5,722.1L447.5,722.4L449.5,722.6L451.5,722.8L453.5,723.0L455.5,723.2L457.5,723.3L459.5,723.5L461.5,723.6L463.5,723.7L465.5,723.7L467.5,723.8L469.5,723.8L471.5,723.8L473.5,723.8L475.5,723.8L477.5,723.7L479.5,723.7L481.5,723.6L483.5,723.5L485.5,723.4L487.5,723.3L489.5,723.2L491.5,723.0L493.5,722.8L495.5,722.7L497.5,722.5L499.5,722.3L501.5,722.0L503.5,721.8L505.5,721.6L507.5,721.3L509.5,721.0L511.5,720.7L513.5,720.4L515.5,720.1L517.5,719.8L519.5,719.5L521.5,719.2L523.5,718.8L525.5,718.5L527.5,718.1L529.5,717.7L531.5,717.3L533.5,716.9L535.5,716.6L537.5,716.1L539.5,715.7L541.5,715.3L543.5,714.9L545.5,714.5L547.5,714.0L549.5,713.6L551.5,713.1L553.5,712.7L555.5,712.2L557.5,711.8L559.5,711.3L561.5,710.8L563.5,710.4L565.5,709.9L567.5,709.4L569.5,709.0L571.5,708.5L573.5,708.0L575.5,707.5L577.5,707.0L579.5,706.6L581.5,706.1L583.5,705.6L585.5,705.1L587.5,704.6L589.5,704.2L591.5,703.7L593.5,703.2L595.5,702.8L597.5,702.3L599.5,701.9L601.5,701.5L603.5,701.1L605.5,700.7L607.5,700.3L609.5,699.9L611.5,699.6L613.5,699.3L615.5,699.0L617.5,698.7L619.5,698.4L621.5,698.2L623.5,698.0L625.5,697.9L627.5,697.8L629.5,697.7L631.5,697.6L633.5,697.6L635.5,697.6L637.5,697.7L639.5,697.8L641.5,697.9L643.5,698.1L645.5,698.3L647.5,698.6L649.5,698.9L651.5,699.3L653.5,699.7L655.5,700.1L657.5,700.6L659.5,701.2L661.5,701.8L663.5,702.4L665.5,703.1L667.5,703.9L669.5,704.7L671.5,705.5L673.5,706.4L675.5,707.4L677.5,708.4L679.5,709.4L681.5,710.5L683.5,711.6L685.5,712.8L687.5,714.1L689.5,715.4L691.5,716.8L693.5,718.2L695.5,719.6L697.5,721.1L699.5,722.7L701.5,724.3L703.5,726.0L705.5,727.7L707.5,729.5L709.5,731.3L711.5,733.2L713.5,735.1L715.5,737.0L717.5,739.0L719.5,741.0L721.5,743.1L723.5,745.2L725.5,747.3L727.5,749.4L729.5,751.6L731.5,753.8L733.5,756.1L735.5,758.4L737.5,760.6L739.5,763.0L741.5,765.3L743.5,767.6L745.5,770.0L747.5,772.4L749.5,774.8L751.5,777.2L753.5,779.7L755.5,782.1L757.5,784.5L759.5,787.0L761.5,789.5L763.5,791.9L765.5,794.4L767.5,796.9L769.5,799.3L771.5,801.8L773.5,804.3L775.5,806.7L777.5,809.2L779.5,811.6L781.5,814.0L783.5,816.5L785.5,818.9L787.5,821.3L789.5,823.6L791.5,826.0L793.5,828.3L795.5,830.7L797.5,833.0L799.5,835.2L801.5,837.5L803.5,839.7L805.5,841.9L807.5,844.1L809.5,846.2L811.5,848.3L813.5,850.4L815.5,852.4L817.5,854.4L819.5,856.4L821.5,858.4L823.5,860.3L825.5,862.2L827.5,864.0L829.5,865.9L831.5,867.7L833.5,869.5L835.5,871.2L837.5,873.0L839.5,874.7L841.5,876.3L843.5,878.0L845.5,879.6L847.5,881.2L849.5,882.8L851.5,884.3L853.5,885.9L855.5,887.4L857.5,888.8L859.5,890.3L861.5,891.7L863.5,893.1L865.5,894.5L867.5,895.9L869.5,897.2L871.5,898.6L873.5,899.9L875.5,901.1L877.5,902.4L879.5,903.6L881.5,904.8L883.5,906.0L885.5,907.2L887.5,908.4L889.5,909.5L891.5,910.7L893.5,911.8L895.5,912.8L897.5,913.9L899.5,915.0L901.5,916.0L903.5,917.0L905.5,918.0L907.5,919.0L909.5,920.0L911.5,921.0L913.5,921.9L915.5,922.8L917.5,923.8L919.5,924.7L921.5,925.5L923.5,926.4L925.5,927.3L927.5,928.1L929.5,929.0L931.5,929.8L933.5,930.6L935.5,931.4L937.5,932.2L939.5,933.0L941.5,933.7L943.5,934.5L945.5,935.2L947.5,935.9L949.5,936.7L951.5,937.4L953.5,938.1L955.5,938.7L957.5,939.4L959.5,940.1L961.5,940.7L963.5,941.4L965.5,942.0L967.5,942.6L969.5,943.2L971.5,943.8L973.5,944.4L975.5,945.0L977.5,945.6L979.5,946.1L981.5,946.7L983.5,947.2L985.5,947.8L987.5,948.3L989.5,948.8L991.5,949.3L993.5,949.8L995.5,950.3L997.5,950.8L999.5,951.3L1001.5,951.7L1003.5,952.2L1005.5,952.6L1007.5,953.1L1009.5,953.5L1011.5,954.0L1013.5,954.4L1015.5,954.8L1017.5,955.2L1019.5,955.6L1021.5,956.0L1023.5,956.4L1025.5,956.8L1027.5,957.2L1029.5,957.6L1031.5,957.9L1033.5,958.3L1035.5,958.6L1037.5,959.0L1039.5,959.3L1041.5,959.6L1043.5,959.9L1045.5,960.2L1047.5,960.5L1049.5,960.8L1051.5,961.1L1053.5,961.3L1055.5,961.6L1057.5,961.8L1059.5,962.0L1061.5,962.2L1063.5,962.4L1065.5,962.6L1067.5,962.8L1069.5,963.0L1071.5,963.1L1073.5,963.3L1075.5,963.4L1077.5,963.5L1079.5,963.6L1081.5,963.7L1083.5,963.8L1085.5,963.8L1087.5,963.9L1089.5,963.9L1091.5,963.9L1093.5,963.9L1095.5,963.9L1097.5,963.9L1099.5,963.8L1101.5,963.8L1103.5,963.7L1105.5,963.6L1107.5,963.5L1109.5,963.3L1111.5,963.2L1113.5,963.0L1115.5,962.9L1117.5,962.7L1119.5,962.4L1121.5,962.2L1123.5,961.9L1125.5,961.7L1127.5,961.4L1129.5,961.1L1131.5,960.7L1133.5,960.4L1135.5,960.0L1137.5,959.6L1139.5,959.2L1141.5,958.8L1143.5,958.3L1145.5,957.8L1147.5,957.3L1149.5,956.8L1151.5,956.3L1153.5,955.7L1155.5,955.1L1157.5,954.5L1159.5,953.9L1161.5,953.2L1163.5,952.5L1165.5,951.8L1167.5,951.1L1169.5,950.4L1171.5,949.6L1173.5,948.8L1175.5,948.0L1177.5,947.1L1179.5,946.2L1181.5,945.3L1183.5,944.4L1185.5,943.5L1187.5,942.5L1189.5,941.5L1191.5,940.4L1193.5,939.4L1195.5,938.3L1197.5,937.2L1199.5,936.1L1201.5,935.0L1203.5,933.9L1205.5,932.8L1207.5,931.7L1209.5,930.6L1211.5,929.5L1213.5,928.4L1215.5,927.3L1217.5,926.2L1219.5,925.2L1221.5,924.2L1223.5,923.2L1225.5,922.2L1227.5,921.3L1229.5,920.4L1231.5,919.5L1233.5,918.7L1235.5,917.9L1237.5,917.2L1239.5,916.5L1241.5,915.9L1243.5,915.3L1245.5,914.8L1247.5,914.4L1249.5,914.0L1251.5,913.6L1253.5,913.4L1255.5,913.2L1257.5,913.0L1259.5,912.9L1261.5,912.9L1263.5,913.0L1265.5,913.1L1267.5,913.2L1269.5,913.5L1271.5,913.7L1273.5,914.1L1275.5,914.5L1277.5,914.9L1279.5,915.4L1281.5,916.0L1283.5,916.6L1285.5,917.2L1287.5,917.9L1289.5,918.7L1291.5,919.5L1293.5,920.3L1295.5,921.1L1297.5,922.0L1299.5,922.9L1301.5,923.8L1303.5,924.7L1305.5,925.7L1307.5,926.7L1309.5,927.7L1311.5,928.6L1313.5,929.6L1315.5,930.7L1317.5,931.7L1319.5,932.7L1321.5,933.7L1323.5,934.7L1325.5,935.6L1327.5,936.6L1329.5,937.5L1331.5,938.5L1333.5,939.4L1335.5,940.3L1337.5,941.1L1339.5,942.0L1341.5,942.8L1343.5,943.6L1345.5,944.4L1347.5,945.2L1349.5,945.9L1351.5,946.7L1353.5,947.4L1355.5,948.1L1357.5,948.8L1359.5,949.4L1361.5,950.1L1363.5,950.7L1365.5,951.3L1367.5,952.0L1369.5,952.5L1371.5,953.1L1373.5,953.7L1375.5,954.3L1377.5,954.8L1379.5,955.4L1381.5,955.9L1383.5,956.4L1385.5,956.9L1387.5,957.4L1389.5,957.9L1391.5,958.4L1393.5,958.9L1395.5,959.4L1397.5,959.9L1399.5,960.3L1401.5,960.8L1403.5,961.2L1405.5,961.6L1407.5,962.1L1409.5,962.5L1411.5,962.9L1413.5,963.3L1415.5,963.7L1417.5,964.1L1419.5,964.5L1421.5,964.9L1423.5,965.3L1425.5,965.6L1427.5,966.0L1429.5,966.3L1431.5,966.7L1433.5,967.0L1435.5,967.4L1437.5,967.7L1439.5,968.0L1441.5,968.4L1443.5,968.7L1445.5,969.0L1447.5,969.3L1449.5,969.6L1451.5,969.9L1453.5,970.2L1455.5,970.5L1457.5,970.8L1459.5,971.0L1461.5,971.3L1463.5,971.6L1465.5,971.9L1467.5,972.1L1469.5,972.4L1471.5,972.6L1473.5,972.9L1475.5,973.1L1477.5,973.4L1479.5,973.6L1481.5,973.8L1483.5,974.1L1485.5,974.3L1487.5,974.5L1489.5,974.7L1491.5,974.9L1493.5,975.2L1495.5,975.4L1497.5,975.6L1499.5,975.8L1501.5,976.0L1503.5,976.2L1505.5,976.4L1507.5,976.6L1509.5,976.8L1511.5,977.0L1513.5,977.2L1515.5,977.4L1517.5,977.6L1519.5,977.7L1521.5,977.9L1523.5,978.1L1525.5,978.3L1527.5,978.5L1529.5,978.7L1531.5,978.8L1533.5,979.0L1535.5,979.2L1537.5,979.4L1539.5,979.5L1541.5,979.7L1543.5,979.9L1545.5,980.1L1547.5,980.2L1549.5,980.4L1551.5,980.6L1553.5,980.8L1555.5,980.9L1557.5,981.1L1559.5,981.3L1561.5,981.4L1563.5,981.6L1565.5,981.8L1567.5,981.9L1569.5,982.1L1571.5,982.3L1573.5,982.4L1575.5,982.6L1577.5,982.8L1579.5,982.9L1581.5,983.1L1583.5,983.2L1585.5,983.4L1587.5,983.6L1589.5,983.7L1591.5,983.9L1593.5,984.0L1595.5,984.2L1597.5,984.4L1599.5,984.5L1601.5,984.7L1603.5,984.8L1605.5,985.0L1607.5,985.1L1609.5,985.3L1611.5,985.4L1613.5,985.6L1615.5,985.7L1617.5,985.9L1619.5,986.0L1621.5,986.2L1623.5,986.3L1625.5,986.5L1627.5,986.6L1629.5,986.8L1631.5,986.9L1633.5,987.1L1635.5,987.2L1637.5,987.3L1639.5,987.5L1641.5,987.6L1643.5,987.8L1645.5,987.9L1647.5,988.0L1649.5,988.2L1651.5,988.3L1653.5,988.5L1655.5,988.6L1657.5,988.7L1659.5,988.9L1661.5,989.0L1663.5,989.1L1665.5,989.3L1667.5,989.4L1669.5,989.5L1671.5,989.7L1673.5,989.8L1675.5,989.9L1677.5,990.1L1679.5,990.2L1681.5,990.3L1683.5,990.5L1685.5,990.6L1687.5,990.7L1689.5,990.8L1691.5,991.0L1693.5,991.1L1695.5,991.2L1697.5,991.4L1699.5,991.5L1701.5,991.6L1703.5,991.7L1705.5,991.8L1707.5,992.0L1709.5,992.1L1711.5,992.2L1713.5,992.3L1715.5,992.5L1717.5,992.6L1719.5,992.7L1721.5,992.8L1723.5,992.9L1725.5,993.0L1727.5,993.2L1729.5,993.3L1731.5,993.4L1733.5,993.5L1735.5,993.6L1737.5,993.7L1739.5,993.8L1741.5,994.0L1743.5,994.1L1745.5,994.2L1747.5,994.3L1749.5,994.4L1751.5,994.5L1753.5,994.6L1755.5,994.7L1757.5,994.8L1759.5,995.0L1761.5,995.1L1763.5,995.2L1765.5,995.3L1767.5,995.4L1769.5,995.5L1771.5,995.6L1773.5,995.7L1775.5,995.8L1777.5,995.9L1779.5,996.0L1781.5,996.1L1783.5,996.2L1785.5,996.3L1787.5,996.4L1789.5,996.5L1791.5,996.6L1793.5,996.7L1795.5,996.8L1797.5,996.9L1799.5,997.0L1801.5,997.1L1803.5,997.2L1805.5,997.3L1807.5,997.4L1809.5,997.5L1811.5,997.6L1813.5,997.7L1815.5,997.8L1817.5,997.9L1819.5,998.0L1821.5,998.1L1823.5,998.1L1825.5,998.2L1827.5,998.3L1829.5,998.4L1831.5,998.5L1833.5,998.6L1835.5,998.7L1837.5,998.8L1839.5,998.9L1841.5,999.0L1843.5,999.0L1845.5,999.1L1847.5,999.2L1849.5,999.3L1851.5,999.4L1853.5,999.5L1855.5,999.6L1857.5,999.6L1859.5,999.7L1861.5,999.8L1863.5,999.9L1865.5,1000.0L1867.5,1000.1L1869.5,1000.1L1871.5,1000.2L1873.5,1000.3L1875.5,1000.4L1877.5,1000.5L1879.5,1000.5L1881.5,1000.6L1883.5,1000.7L1885.5,1000.8L1887.5,1000.9L1889.5,1000.9L1891.5,1001.0L1893.5,1001.1L1895.5,1001.2L1897.5,1001.2L1899.5,1001.3L1901.5,1001.4L1903.5,1001.5L1905.5,1001.5L1907.5,1001.6L1909.5,1001.7L1911.5,1001.8L1913.5,1001.8L1915.5,1001.9L1917.5,1002.0L1919.5,1002.1L1921.5,1002.1L1923.5,1002.2L1925.5,1002.3L1927.5,1002.3L1929.5,1002.4L1931.5,1002.5L1933.5,1002.6L1935.5,1002.6L1937.5,1002.7L1939.5,1002.8L1941.5,1002.8L1943.5,1002.9L1945.5,1003.0L1947.5,1003.0L1949.5,1003.1L1951.5,1003.2L1953.5,1003.2L1955.5,1003.3L1957.5,1003.4L1959.5,1003.4L1961.5,1003.5L1963.5,1003.5L1965.5,1003.6L1967.5,1003.7L1969.5,1003.7L1971.5,1003.8L1973.5,1003.9L1975.5,1003.9L1977.5,1004.0L1979.5,1004.0L1981.5,1004.1L1983.5,1004.2L1985.5,1004.2L1987.5,1004.3L1989.5,1004.3L1991.5,1004.4L1993.5,1004.5L1995.5,1004.5L1997.5,1004.6L1999.5,1004.6L2001.5,1004.7L2003.5,1004.7L2005.5,1004.8L2007.5,1004.9L2009.5,1004.9L2011.5,1005.0L2013.5,1005.0L2015.5,1005.1L2017.5,1005.1L2019.5,1005.2L2021.5,1005.2L2023.5,1005.3L2025.5,1005.3L2027.5,1005.4L2029.5,1005.4L2031.5,1005.4L2033.5,1005.5L2035.5,1005.5L2037.5,1005.6L2039.5,1005.6L2041.5,1005.7L2043.5,1005.7L2045.5,1005.7L2047.5,1005.8L2049.5,1005.8L2051.5,1005.8L2053.5,1005.9L2055.5,1005.9L2057.5,1005.9L2059.5,1006.0L2061.5,1006.0L2063.5,1006.0L2065.5,1006.1L2067.5,1006.1L2069.5,1006.1L2071.5,1006.1L2073.5,1006.1L2075.5,1006.2L2077.5,1006.2L2079.5,1006.2L2081.5,1006.2L2083.5,1006.2L2085.5,1006.3L2087.5,1006.3L2089.5,1006.3L2091.5,1006.3L2093.5,1006.3L2095.5,1006.3L2097.5,1006.3L2099.5,1006.3L2101.5,1006.3L2103.5,1006.3L2105.5,1006.3L2107.5,1006.3L2109.5,1006.3L2111.5,1006.3L2113.5,1006.3L2115.5,1006.3L2117.5,1006.3L2119.5,1006.3L2121.5,1006.2L2123.5,1006.2L2125.5,1006.2L2127.5,1006.2L2129.5,1006.2L2131.5,1006.2L2133.5,1006.1L2135.5,1006.1L2137.5,1006.1L2139.5,1006.0L2141.5,1006.0L2143.5,1006.0L2145.5,1005.9L2147.5,1005.9L2149.5,1005.9L2151.5,1005.8L2153.5,1005.8L2155.5,1005.7L2157.5,1005.7L2159.5,1005.6L2161.5,1005.6L2163.5,1005.5L2165.5,1005.5L2167.5,1005.4L2169.5,1005.3L2171.5,1005.3L2173.5,1005.2L2175.5,1005.2L2177.5,1005.1L2179.5,1005.0L2181.5,1004.9L2183.5,1004.9L2185.5,1004.8L2187.5,1004.7L2189.5,1004.6L2191.5,1004.5L2193.5,1004.4L2195.5,1004.3L2197.5,1004.3L2199.5,1004.2L2201.5,1004.1L2203.5,1004.0L2205.5,1003.9L2207.5,1003.8L2209.5,1003.6L2211.5,1003.5L2213.5,1003.4L2215.5,1003.3L2217.5,1003.2L2219.5,1003.1L2221.5,1003.0L2223.5,1002.9L2225.5,1002.7L2227.5,1002.6L2229.5,1002.5L2231.5,1002.4L2233.5,1002.2L2235.5,1002.1L2237.5,1002.0L2239.5,1001.9L2241.5,1001.7L2243.5,1001.6L2245.5,1001.5L2247.5,1001.4L2249.5,1001.2L2251.5,1001.1L2253.5,1001.0L2255.5,1000.9L2257.5,1000.7L2259.5,1000.6L2261.5,1000.5L2263.5,1000.3L2265.5,1000.2L2267.5,1000.1L2269.5,1000.0L2271.5,999.9L2273.5,999.7L2275.5,999.6L2277.5,999.5L2279.5,999.4L2281.5,999.3L2283.5,999.1L2285.5,999.0L2287.5,998.9L2289.5,998.8L2291.5,998.7L2293.5,998.6L2295.5,998.5L2297.5,998.4L2299.5,998.3L2301.5,998.2L2303.5,998.1L2305.5,998.0L2307.5,997.9L2309.5,997.8L2311.5,997.7L2313.5,997.7L2315.5,997.6L2317.5,997.5L2319.5,997.4L2321.5,997.4L2323.5,997.3L2325.5,997.2L2327.5,997.2L2329.5,997.1L2331.5,997.1L2333.5,997.0L2335.5,997.0L2337.5,996.9L2339.5,996.9L2341.5,996.9L2343.5,996.9L2345.5,996.8L2347.5,996.8L2349.5,996.8L2351.5,996.8L2353.3,996.8" fill="none" stroke="#0000ff" stroke-width="3.5" stroke-linejoin="round"/>
<path d="M255.5,772.5L257.5,777.7L259.5,782.9L261.5,787.9L263.5,792.8L265.5,797.6L267.5,802.3L269.5,806.9L271.5,811.3L273.5,815.6L275.5,819.9L277.5,824.0L279.5,828.0L281.5,832.0L283.5,835.8L285.5,839.6L287.5,843.2L289.5,846.8L291.5,850.2L293.5,853.6L295.5,856.9L297.5,860.2L299.5,863.3L301.5,866.4L303.5,869.4L305.5,872.3L307.5,875.2L309.5,878.0L311.5,880.7L313.5,883.3L315.5,885.9L317.5,888.4L319.5,890.9L321.5,893.3L323.5,895.6L325.5,897.9L327.5,900.1L329.5,902.3L331.5,904.4L333.5,906.5L335.5,908.5L337.5,910.4L339.5,912.4L341.5,914.2L343.5,916.0L345.5,917.8L347.5,919.6L349.5,921.3L351.5,922.9L353.5,924.6L355.5,926.1L357.5,927.7L359.5,929.2L361.5,930.7L363.5,932.2L365.5,933.6L367.5,935.0L369.5,936.4L371.5,937.8L373.5,939.1L375.5,940.4L377.5,941.7L379.5,943.0L381.5,944.2L383.5,945.4L385.5,946.6L387.5,947.8L389.5,948.9L391.5,950.0L393.5,951.1L395.5,952.1L397.5,953.2L399.5,954.2L401.5,955.2L403.5,956.1L405.5,957.0L407.5,957.9L409.5,958.8L411.5,959.7L413.5,960.5L415.5,961.3L417.5,962.0L419.5,962.8L421.5,963.5L423.5,964.2L425.5,964.8L427.5,965.5L429.5,966.1L431.5,966.6L433.5,967.2L435.5,967.7L437.5,968.2L439.5,968.6L441.5,969.1L443.5,969.5L445.5,969.8L447.5,970.2L449.5,970.5L451.5,970.8L453.5,971.1L455.5,971.3L457.5,971.5L459.5,971.7L461.5,971.9L463.5,972.0L465.5,972.2L467.5,972.3L469.5,972.3L471.5,972.4L473.5,972.4L475.5,972.4L477.5,972.4L479.5,972.4L481.5,972.4L483.5,972.3L485.5,972.2L487.5,972.1L489.5,972.0L491.5,971.9L493.5,971.7L495.5,971.6L497.5,971.4L499.5,971.2L501.5,971.0L503.5,970.8L505.5,970.5L507.5,970.3L509.5,970.0L511.5,969.7L513.5,969.4L515.5,969.1L517.5,968.8L519.5,968.5L521.5,968.2L523.5,967.9L525.5,967.5L527.5,967.2L529.5,966.8L531.5,966.4L533.5,966.0L535.5,965.7L537.5,965.3L539.5,964.9L541.5,964.5L543.5,964.1L545.5,963.7L547.5,963.3L549.5,962.8L551.5,962.4L553.5,962.0L555.5,961.6L557.5,961.2L559.5,960.8L561.5,960.3L563.5,959.9L565.5,959.5L567.5,959.1L569.5,958.7L571.5,958.2L573.5,957.8L575.5,957.4L577.5,957.0L579.5,956.6L581.5,956.2L583.5,955.8L585.5,955.4L587.5,955.1L589.5,954.7L591.5,954.3L593.5,954.0L595.5,953.6L597.5,953.3L599.5,953.0L601.5,952.6L603.5,952.3L605.5,952.1L607.5,951.8L609.5,951.5L611.5,951.3L613.5,951.1L615.5,950.9L617.5,950.7L619.5,950.5L621.5,950.4L623.5,950.3L625.5,950.2L627.5,950.1L629.5,950.0L631.5,950.0L633.5,950.0L635.5,950.0L637.5,950.1L639.5,950.1L641.5,950.2L643.5,950.4L645.5,950.6L647.5,950.8L649.5,951.0L651.5,951.2L653.5,951.5L655.5,951.9L657.5,952.3L659.5,952.7L661.5,953.1L663.5,953.6L665.5,954.1L667.5,954.7L669.5,955.3L671.5,955.9L673.5,956.6L675.5,957.3L677.5,958.1L679.5,958.9L681.5,959.8L683.5,960.7L685.5,961.7L687.5,962.7L689.5,963.7L691.5,964.8L693.5,966.0L695.5,967.2L697.5,968.5L699.5,969.8L701.5,971.1L703.5,972.6L705.5,974.0L707.5,975.5L709.5,977.0L711.5,978.6L713.5,980.2L715.5,981.9L717.5,983.5L719.5,985.2L721.5,987.0L723.5,988.7L725.5,990.5L727.5,992.3L729.5,994.1L731.5,995.9L733.5,997.8L735.5,999.6L737.5,1001.5L739.5,1003.4L741.5,1005.4L743.5,1007.3L745.5,1009.3L747.5,1011.3L749.5,1013.3L751.5,1015.3L753.5,1017.4L755.5,1019.5L757.5,1021.5L759.5,1023.7L761.5,1025.8L763.5,1027.9L765.5,1030.1L767.5,1032.2L769.5,1034.4L771.5,1036.5L773.5,1038.7L775.5,1040.9L777.5,1043.1L779.5,1045.2L781.5,1047.4L783.5,1049.6L785.5,1051.8L787.5,1053.9L789.5,1056.1L791.5,1058.2L793.5,1060.4L795.5,1062.5L797.5,1064.6L799.5,1066.7L801.5,1068.7L803.5,1070.8L805.5,1072.8L807.5,1074.8L809.5,1076.8L811.5,1078.8L813.5,1080.7L815.5,1082.6L817.5,1084.5L819.5,1086.4L821.5,1088.2L823.5,1090.0L825.5,1091.8L827.5,1093.6L829.5,1095.3L831.5,1097.0L833.5,1098.7L835.5,1100.4L837.5,1102.0L839.5,1103.7L841.5,1105.3L843.5,1106.9L845.5,1108.4L847.5,1110.0L849.5,1111.5L851.5,1113.0L853.5,1114.4L855.5,1115.9L857.5,1117.3L859.5,1118.7L861.5,1120.1L863.5,1121.5L865.5,1122.8L867.5,1124.2L869.5,1125.5L871.5,1126.7L873.5,1128.0L875.5,1129.3L877.5,1130.5L879.5,1131.7L881.5,1132.9L883.5,1134.1L885.5,1135.2L887.5,1136.4L889.5,1137.5L891.5,1138.6L893.5,1139.7L895.5,1140.8L897.5,1141.8L899.5,1142.8L901.5,1143.9L903.5,1144.9L905.5,1145.9L907.5,1146.8L909.5,1147.8L911.5,1148.7L913.5,1149.6L915.5,1150.6L917.5,1151.4L919.5,1152.3L921.5,1153.2L923.5,1154.0L925.5,1154.9L927.5,1155.7L929.5,1156.5L931.5,1157.3L933.5,1158.1L935.5,1158.8L937.5,1159.6L939.5,1160.3L941.5,1161.1L943.5,1161.8L945.5,1162.5L947.5,1163.2L949.5,1163.9L951.5,1164.5L953.5,1165.2L955.5,1165.8L957.5,1166.5L959.5,1167.1L961.5,1167.7L963.5,1168.3L965.5,1168.9L967.5,1169.5L969.5,1170.1L971.5,1170.6L973.5,1171.2L975.5,1171.7L977.5,1172.2L979.5,1172.8L981.5,1173.3L983.5,1173.8L985.5,1174.3L987.5,1174.8L989.5,1175.3L991.5,1175.8L993.5,1176.2L995.5,1176.7L997.5,1177.1L999.5,1177.6L1001.5,1178.0L1003.5,1178.5L1005.5,1178.9L1007.5,1179.3L1009.5,1179.7L1011.5,1180.1L1013.5,1180.5L1015.5,1180.9L1017.5,1181.3L1019.5,1181.7L1021.5,1182.1L1023.5,1182.4L1025.5,1182.8L1027.5,1183.2L1029.5,1183.5L1031.5,1183.9L1033.5,1184.2L1035.5,1184.5L1037.5,1184.8L1039.5,1185.1L1041.5,1185.4L1043.5,1185.7L1045.5,1186.0L1047.5,1186.3L1049.5,1186.5L1051.5,1186.8L1053.5,1187.0L1055.5,1187.3L1057.5,1187.5L1059.5,1187.7L1061.5,1187.9L1063.5,1188.1L1065.5,1188.3L1067.5,1188.5L1069.5,1188.7L1071.5,1188.8L1073.5,1189.0L1075.5,1189.1L1077.5,1189.2L1079.5,1189.4L1081.5,1189.5L1083.5,1189.6L1085.5,1189.6L1087.5,1189.7L1089.5,1189.8L1091.5,1189.8L1093.5,1189.9L1095.5,1189.9L1097.5,1189.9L1099.5,1189.9L1101.5,1189.9L1103.5,1189.9L1105.5,1189.8L1107.5,1189.8L1109.5,1189.7L1111.5,1189.7L1113.5,1189.6L1115.5,1189.5L1117.5,1189.4L1119.5,1189.2L1121.5,1189.1L1123.5,1188.9L1125.5,1188.8L1127.5,1188.6L1129.5,1188.4L1131.5,1188.2L1133.5,1187.9L1135.5,1187.7L1137.5,1187.4L1139.5,1187.2L1141.5,1186.9L1143.5,1186.5L1145.5,1186.2L1147.5,1185.9L1149.5,1185.5L1151.5,1185.1L1153.5,1184.6L1155.5,1184.2L1157.5,1183.7L1159.5,1183.2L1161.5,1182.7L1163.5,1182.1L1165.5,1181.6L1167.5,1180.9L1169.5,1180.3L1171.5,1179.6L1173.5,1178.9L1175.5,1178.2L1177.5,1177.4L1179.5,1176.6L1181.5,1175.8L1183.5,1174.9L1185.5,1174.0L1187.5,1173.1L1189.5,1172.1L1191.5,1171.1L1193.5,1170.0L1195.5,1168.9L1197.5,1167.8L1199.5,1166.7L1201.5,1165.5L1203.5,1164.3L1205.5,1163.2L1207.5,1162.0L1209.5,1160.8L1211.5,1159.6L1213.5,1158.4L1215.5,1157.2L1217.5,1156.1L1219.5,1155.0L1221.5,1153.9L1223.5,1152.8L1225.5,1151.7L1227.5,1150.7L1229.5,1149.8L1231.5,1148.9L1233.5,1148.0L1235.5,1147.2L1237.5,1146.4L1239.5,1145.7L1241.5,1145.1L1243.5,1144.5L1245.5,1144.1L1247.5,1143.7L1249.5,1143.3L1251.5,1143.1L1253.5,1142.9L1255.5,1142.8L1257.5,1142.8L1259.5,1142.8L1261.5,1142.9L1263.5,1143.0L1265.5,1143.3L1267.5,1143.5L1269.5,1143.8L1271.5,1144.2L1273.5,1144.6L1275.5,1145.1L1277.5,1145.6L1279.5,1146.1L1281.5,1146.7L1283.5,1147.4L1285.5,1148.0L1287.5,1148.7L1289.5,1149.4L1291.5,1150.2L1293.5,1151.0L1295.5,1151.8L1297.5,1152.6L1299.5,1153.4L1301.5,1154.3L1303.5,1155.2L1305.5,1156.0L1307.5,1156.9L1309.5,1157.8L1311.5,1158.7L1313.5,1159.7L1315.5,1160.6L1317.5,1161.5L1319.5,1162.4L1321.5,1163.4L1323.5,1164.3L1325.5,1165.3L1327.5,1166.2L1329.5,1167.1L1331.5,1168.0L1333.5,1169.0L1335.5,1169.9L1337.5,1170.8L1339.5,1171.7L1341.5,1172.5L1343.5,1173.4L1345.5,1174.2L1347.5,1175.1L1349.5,1175.9L1351.5,1176.7L1353.5,1177.5L1355.5,1178.2L1357.5,1179.0L1359.5,1179.7L1361.5,1180.4L1363.5,1181.0L1365.5,1181.7L1367.5,1182.3L1369.5,1182.9L1371.5,1183.5L1373.5,1184.1L1375.5,1184.6L1377.5,1185.2L1379.5,1185.7L1381.5,1186.2L1383.5,1186.7L1385.5,1187.2L1387.5,1187.6L1389.5,1188.1L1391.5,1188.5L1393.5,1188.9L1395.5,1189.3L1397.5,1189.7L1399.5,1190.1L1401.5,1190.5L1403.5,1190.8L1405.5,1191.2L1407.5,1191.5L1409.5,1191.8L1411.5,1192.2L1413.5,1192.5L1415.5,1192.8L1417.5,1193.1L1419.5,1193.4L1421.5,1193.7L1423.5,1194.0L1425.5,1194.2L1427.5,1194.5L1429.5,1194.8L1431.5,1195.1L1433.5,1195.3L1435.5,1195.6L1437.5,1195.8L1439.5,1196.1L1441.5,1196.4L1443.5,1196.6L1445.5,1196.9L1447.5,1197.1L1449.5,1197.4L1451.5,1197.7L1453.5,1197.9L1455.5,1198.2L1457.5,1198.4L1459.5,1198.6L1461.5,1198.9L1463.5,1199.1L1465.5,1199.4L1467.5,1199.6L1469.5,1199.9L1471.5,1200.1L1473.5,1200.3L1475.5,1200.6L1477.5,1200.8L1479.5,1201.0L1481.5,1201.3L1483.5,1201.5L1485.5,1201.7L1487.5,1202.0L1489.5,1202.2L1491.5,1202.4L1493.5,1202.6L1495.5,1202.8L1497.5,1203.1L1499.5,1203.3L1501.5,1203.5L1503.5,1203.7L1505.5,1203.9L1507.5,1204.1L1509.5,1204.4L1511.5,1204.6L1513.5,1204.8L1515.5,1205.0L1517.5,1205.2L1519.5,1205.4L1521.5,1205.6L1523.5,1205.8L1525.5,1206.0L1527.5,1206.2L1529.5,1206.4L1531.5,1206.6L1533.5,1206.8L1535.5,1207.0L1537.5,1207.2L1539.5,1207.4L1541.5,1207.5L1543.5,1207.7L1545.5,1207.9L1547.5,1208.1L1549.5,1208.3L1551.5,1208.5L1553.5,1208.7L1555.5,1208.8L1557.5,1209.0L1559.5,1209.2L1561.5,1209.4L1563.5,1209.5L1565.5,1209.7L1567.5,1209.9L1569.5,1210.1L1571.5,1210.2L1573.5,1210.4L1575.5,1210.6L1577.5,1210.7L1579.5,1210.9L1581.5,1211.1L1583.5,1211.2L1585.5,1211.4L1587.5,1211.5L1589.5,1211.7L1591.5,1211.9L1593.5,1212.0L1595.5,1212.2L1597.5,1212.3L1599.5,1212.5L1601.5,1212.6L1603.5,1212.8L1605.5,1212.9L1607.5,1213.1L1609.5,1213.2L1611.5,1213.4L1613.5,1213.5L1615.5,1213.7L1617.5,1213.8L1619.5,1214.0L1621.5,1214.1L1623.5,1214.3L1625.5,1214.4L1627.5,1214.5L1629.5,1214.7L1631.5,1214.8L1633.5,1214.9L1635.5,1215.1L1637.5,1215.2L1639.5,1215.4L1641.5,1215.5L1643.5,1215.6L1645.5,1215.7L1647.5,1215.9L1649.5,1216.0L1651.5,1216.1L1653.5,1216.3L1655.5,1216.4L1657.5,1216.5L1659.5,1216.6L1661.5,1216.8L1663.5,1216.9L1665.5,1217.0L1667.5,1217.1L1669.5,1217.2L1671.5,1217.4L1673.5,1217.5L1675.5,1217.6L1677.5,1217.7L1679.5,1217.8L1681.5,1217.9L1683.5,1218.1L1685.5,1218.2L1687.5,1218.3L1689.5,1218.4L1691.5,1218.5L1693.5,1218.6L1695.5,1218.7L1697.5,1218.8L1699.5,1218.9L1701.5,1219.1L1703.5,1219.2L1705.5,1219.3L1707.5,1219.4L1709.5,1219.5L1711.5,1219.6L1713.5,1219.7L1715.5,1219.8L1717.5,1219.9L1719.5,1220.0L1721.5,1220.1L1723.5,1220.2L1725.5,1220.3L1727.5,1220.4L1729.5,1220.5L1731.5,1220.6L1733.5,1220.7L1735.5,1220.8L1737.5,1220.9L1739.5,1221.0L1741.5,1221.1L1743.5,1221.2L1745.5,1221.2L1747.5,1221.3L1749.5,1221.4L1751.5,1221.5L1753.5,1221.6L1755.5,1221.7L1757.5,1221.8L1759.5,1221.9L1761.5,1222.0L1763.5,1222.1L1765.5,1222.2L1767.5,1222.2L1769.5,1222.3L1771.5,1222.4L1773.5,1222.5L1775.5,1222.6L1777.5,1222.7L1779.5,1222.8L1781.5,1222.8L1783.5,1222.9L1785.5,1223.0L1787.5,1223.1L1789.5,1223.2L1791.5,1223.3L1793.5,1223.3L1795.5,1223.4L1797.5,1223.5L1799.5,1223.6L1801.5,1223.7L1803.5,1223.7L1805.5,1223.8L1807.5,1223.9L1809.5,1224.0L1811.5,1224.1L1813.5,1224.1L1815.5,1224.2L1817.5,1224.3L1819.5,1224.4L1821.5,1224.5L1823.5,1224.5L1825.5,1224.6L1827.5,1224.7L1829.5,1224.8L1831.5,1224.8L1833.5,1224.9L1835.5,1225.0L1837.5,1225.1L1839.5,1225.1L1841.5,1225.2L1843.5,1225.3L1845.5,1225.4L1847.5,1225.4L1849.5,1225.5L1851.5,1225.6L1853.5,1225.7L1855.5,1225.7L1857.5,1225.8L1859.5,1225.9L1861.5,1226.0L1863.5,1226.0L1865.5,1226.1L1867.5,1226.2L1869.5,1226.3L1871.5,1226.3L1873.5,1226.4L1875.5,1226.5L1877.5,1226.5L1879.5,1226.6L1881.5,1226.7L1883.5,1226.8L1885.5,1226.8L1887.5,1226.9L1889.5,1227.0L1891.5,1227.1L1893.5,1227.1L1895.5,1227.2L1897.5,1227.3L1899.5,1227.3L1901.5,1227.4L1903.5,1227.5L1905.5,1227.6L1907.5,1227.6L1909.5,1227.7L1911.5,1227.8L1913.5,1227.9L1915.5,1227.9L1917.5,1228.0L1919.5,1228.1L1921.5,1228.1L1923.5,1228.2L1925.5,1228.3L1927.5,1228.4L1929.5,1228.4L1931.5,1228.5L1933.5,1228.6L1935.5,1228.7L1937.5,1228.7L1939.5,1228.8L1941.5,1228.9L1943.5,1229.0L1945.5,1229.0L1947.5,1229.1L1949.5,1229.2L1951.5,1229.2L1953.5,1229.3L1955.5,1229.4L1957.5,1229.5L1959.5,1229.5L1961.5,1229.6L1963.5,1229.7L1965.5,1229.8L1967.5,1229.8L1969.5,1229.9L1971.5,1230.0L1973.5,1230.0L1975.5,1230.1L1977.5,1230.2L1979.5,1230.3L1981.5,1230.3L1983.5,1230.4L1985.5,1230.5L1987.5,1230.5L1989.5,1230.6L1991.5,1230.7L1993.5,1230.7L1995.5,1230.8L1997.5,1230.9L1999.5,1230.9L2001.5,1231.0L2003.5,1231.1L2005.5,1231.1L2007.5,1231.2L2009.5,1231.2L2011.5,1231.3L2013.5,1231.4L2015.5,1231.4L2017.5,1231.5L2019.5,1231.5L2021.5,1231.6L2023.5,1231.6L2025.5,1231.7L2027.5,1231.7L2029.5,1231.8L2031.5,1231.8L2033.5,1231.9L2035.5,1231.9L2037.5,1232.0L2039.5,1232.0L2041.5,1232.1L2043.5,1232.1L2045.5,1232.2L2047.5,1232.2L2049.5,1232.3L2051.5,1232.3L2053.5,1232.3L2055.5,1232.4L2057.5,1232.4L2059.5,1232.4L2061.5,1232.5L2063.5,1232.5L2065.5,1232.5L2067.5,1232.6L2069.5,1232.6L2071.5,1232.6L2073.5,1232.6L2075.5,1232.7L2077.5,1232.7L2079.5,1232.7L2081.5,1232.7L2083.5,1232.7L2085.5,1232.8L2087.5,1232.8L2089.5,1232.8L2091.5,1232.8L2093.5,1232.8L2095.5,1232.8L2097.5,1232.8L2099.5,1232.8L2101.5,1232.8L2103.5,1232.8L2105.5,1232.8L2107.5,1232.8L2109.5,1232.8L2111.5,1232.8L2113.5,1232.8L2115.5,1232.8L2117.5,1232.8L2119.5,1232.8L2121.5,1232.8L2123.5,1232.7L2125.5,1232.7L2127.5,1232.7L2129.5,1232.7L2131.5,1232.6L2133.5,1232.6L2135.5,1232.6L2137.5,1232.5L2139.5,1232.5L2141.5,1232.5L2143.5,1232.4L2145.5,1232.4L2147.5,1232.3L2149.5,1232.3L2151.5,1232.2L2153.5,1232.2L2155.5,1232.1L2157.5,1232.1L2159.5,1232.0L2161.5,1232.0L2163.5,1231.9L2165.5,1231.8L2167.5,1231.8L2169.5,1231.7L2171.5,1231.6L2173.5,1231.6L2175.5,1231.5L2177.5,1231.4L2179.5,1231.3L2181.5,1231.2L2183.5,1231.2L2185.5,1231.1L2187.5,1231.0L2189.5,1230.9L2191.5,1230.8L2193.5,1230.7L2195.5,1230.6L2197.5,1230.5L2199.5,1230.4L2201.5,1230.3L2203.5,1230.2L2205.5,1230.1L2207.5,1230.0L2209.5,1229.9L2211.5,1229.8L2213.5,1229.7L2215.5,1229.6L2217.5,1229.5L2219.5,1229.4L2221.5,1229.3L2223.5,1229.2L2225.5,1229.1L2227.5,1229.0L2229.5,1228.9L2231.5,1228.8L2233.5,1228.7L2235.5,1228.6L2237.5,1228.4L2239.5,1228.3L2241.5,1228.2L2243.5,1228.1L2245.5,1228.0L2247.5,1227.9L2249.5,1227.8L2251.5,1227.7L2253.5,1227.6L2255.5,1227.5L2257.5,1227.4L2259.5,1227.3L2261.5,1227.1L2263.5,1227.0L2265.5,1226.9L2267.5,1226.8L2269.5,1226.7L2271.5,1226.6L2273.5,1226.5L2275.5,1226.4L2277.5,1226.3L2279.5,1226.2L2281.5,1226.1L2283.5,1226.0L2285.5,1225.9L2287.5,1225.8L2289.5,1225.7L2291.5,1225.7L2293.5,1225.6L2295.5,1225.5L2297.5,1225.4L2299.5,1225.3L2301.5,1225.2L2303.5,1225.1L2305.5,1225.1L2307.5,1225.0L2309.5,1224.9L2311.5,1224.8L2313.5,1224.8L2315.5,1224.7L2317.5,1224.6L2319.5,1224.6L2321.5,1224.5L2323.5,1224.4L2325.5,1224.4L2327.5,1224.3L2329.5,1224.3L2331.5,1224.2L2333.5,1224.2L2335.5,1224.1L2337.5,1224.1L2339.5,1224.1L2341.5,1224.0L2343.5,1224.0L2345.5,1224.0L2347.5,1223.9L2349.5,1223.9L2351.5,1223.9L2353.5,1223.9" fill="none" stroke="#ff00ff" stroke-width="3.5" stroke-linejoin="round"/>
<path d="M255.5,1013.4L257.5,1018.7L259.5,1023.9L261.5,1028.8L263.5,1033.7L265.5,1038.4L267.5,1042.9L269.5,1047.3L271.5,1051.6L273.5,1055.8L275.5,1059.9L277.5,1063.9L279.5,1067.8L281.5,1071.7L283.5,1075.4L285.5,1079.1L287.5,1082.7L289.5,1086.2L291.5,1089.6L293.5,1093.0L295.5,1096.2L297.5,1099.5L299.5,1102.6L301.5,1105.7L303.5,1108.7L305.5,1111.7L307.5,1114.6L309.5,1117.4L311.5,1120.1L313.5,1122.8L315.5,1125.5L317.5,1128.1L319.5,1130.6L321.5,1133.0L323.5,1135.4L325.5,1137.7L327.5,1140.0L329.5,1142.2L331.5,1144.4L333.5,1146.5L335.5,1148.6L337.5,1150.6L339.5,1152.5L341.5,1154.4L343.5,1156.2L345.5,1158.0L347.5,1159.8L349.5,1161.5L351.5,1163.1L353.5,1164.7L355.5,1166.3L357.5,1167.8L359.5,1169.3L361.5,1170.7L363.5,1172.1L365.5,1173.5L367.5,1174.8L369.5,1176.1L371.5,1177.4L373.5,1178.6L375.5,1179.8L377.5,1180.9L379.5,1182.0L381.5,1183.1L383.5,1184.2L385.5,1185.2L387.5,1186.3L389.5,1187.3L391.5,1188.2L393.5,1189.2L395.5,1190.1L397.5,1191.1L399.5,1192.0L401.5,1192.8L403.5,1193.7L405.5,1194.6L407.5,1195.4L409.5,1196.3L411.5,1197.1L413.5,1197.9L415.5,1198.6L417.5,1199.4L419.5,1200.2L421.5,1200.9L423.5,1201.6L425.5,1202.3L427.5,1202.9L429.5,1203.6L431.5,1204.2L433.5,1204.8L435.5,1205.3L437.5,1205.8L439.5,1206.4L441.5,1206.8L443.5,1207.3L445.5,1207.7L447.5,1208.1L449.5,1208.5L451.5,1208.8L453.5,1209.1L455.5,1209.4L457.5,1209.7L459.5,1209.9L461.5,1210.1L463.5,1210.3L465.5,1210.5L467.5,1210.6L469.5,1210.7L471.5,1210.8L473.5,1210.9L475.5,1210.9L477.5,1211.0L479.5,1211.0L481.5,1211.0L483.5,1211.0L485.5,1210.9L487.5,1210.9L489.5,1210.8L491.5,1210.7L493.5,1210.6L495.5,1210.5L497.5,1210.3L499.5,1210.2L501.5,1210.0L503.5,1209.8L505.5,1209.6L507.5,1209.4L509.5,1209.2L511.5,1208.9L513.5,1208.7L515.5,1208.4L517.5,1208.2L519.5,1207.9L521.5,1207.6L523.5,1207.3L525.5,1207.0L527.5,1206.7L529.5,1206.3L531.5,1206.0L533.5,1205.7L535.5,1205.3L537.5,1205.0L539.5,1204.6L541.5,1204.2L543.5,1203.9L545.5,1203.5L547.5,1203.1L549.5,1202.7L551.5,1202.4L553.5,1202.0L555.5,1201.6L557.5,1201.2L559.5,1200.8L561.5,1200.4L563.5,1200.0L565.5,1199.6L567.5,1199.3L569.5,1198.9L571.5,1198.5L573.5,1198.1L575.5,1197.7L577.5,1197.4L579.5,1197.0L581.5,1196.6L583.5,1196.3L585.5,1195.9L587.5,1195.6L589.5,1195.2L591.5,1194.9L593.5,1194.6L595.5,1194.3L597.5,1193.9L599.5,1193.6L601.5,1193.4L603.5,1193.1L605.5,1192.8L607.5,1192.5L609.5,1192.3L611.5,1192.1L613.5,1191.9L615.5,1191.7L617.5,1191.5L619.5,1191.4L621.5,1191.2L623.5,1191.1L625.5,1191.0L627.5,1191.0L629.5,1190.9L631.5,1190.9L633.5,1191.0L635.5,1191.0L637.5,1191.1L639.5,1191.2L641.5,1191.4L643.5,1191.5L645.5,1191.8L647.5,1192.0L649.5,1192.3L651.5,1192.6L653.5,1193.0L655.5,1193.4L657.5,1193.8L659.5,1194.3L661.5,1194.8L663.5,1195.4L665.5,1195.9L667.5,1196.5L669.5,1197.2L671.5,1197.9L673.5,1198.6L675.5,1199.3L677.5,1200.1L679.5,1200.9L681.5,1201.8L683.5,1202.6L685.5,1203.5L687.5,1204.5L689.5,1205.5L691.5,1206.5L693.5,1207.5L695.5,1208.6L697.5,1209.7L699.5,1210.8L701.5,1212.0L703.5,1213.2L705.5,1214.4L707.5,1215.7L709.5,1217.0L711.5,1218.4L713.5,1219.7L715.5,1221.2L717.5,1222.7L719.5,1224.2L721.5,1225.8L723.5,1227.5L725.5,1229.2L727.5,1231.0L729.5,1232.9L731.5,1234.8L733.5,1236.7L735.5,1238.7L737.5,1240.8L739.5,1242.9L741.5,1245.0L743.5,1247.2L745.5,1249.4L747.5,1251.6L749.5,1253.8L751.5,1256.0L753.5,1258.2L755.5,1260.4L757.5,1262.5L759.5,1264.7L761.5,1266.8L763.5,1269.0L765.5,1271.1L767.5,1273.2L769.5,1275.3L771.5,1277.3L773.5,1279.4L775.5,1281.4L777.5,1283.5L779.5,1285.5L781.5,1287.5L783.5,1289.4L785.5,1291.4L787.5,1293.3L789.5,1295.3L791.5,1297.2L793.5,1299.1L795.5,1300.9L797.5,1302.8L799.5,1304.6L801.5,1306.4L803.5,1308.3L805.5,1310.0L807.5,1311.8L809.5,1313.6L811.5,1315.3L813.5,1317.0L815.5,1318.7L817.5,1320.4L819.5,1322.1L821.5,1323.7L823.5,1325.3L825.5,1327.0L827.5,1328.6L829.5,1330.1L831.5,1331.7L833.5,1333.2L835.5,1334.8L837.5,1336.3L839.5,1337.8L841.5,1339.2L843.5,1340.7L845.5,1342.1L847.5,1343.6L849.5,1345.0L851.5,1346.3L853.5,1347.7L855.5,1349.1L857.5,1350.4L859.5,1351.7L861.5,1353.0L863.5,1354.3L865.5,1355.6L867.5,1356.9L869.5,1358.1L871.5,1359.3L873.5,1360.5L875.5,1361.7L877.5,1362.9L879.5,1364.1L881.5,1365.2L883.5,1366.3L885.5,1367.5L887.5,1368.6L889.5,1369.6L891.5,1370.7L893.5,1371.8L895.5,1372.8L897.5,1373.8L899.5,1374.8L901.5,1375.8L903.5,1376.8L905.5,1377.7L907.5,1378.7L909.5,1379.6L911.5,1380.5L913.5,1381.4L915.5,1382.3L917.5,1383.2L919.5,1384.0L921.5,1384.9L923.5,1385.7L925.5,1386.5L927.5,1387.3L929.5,1388.1L931.5,1388.8L933.5,1389.6L935.5,1390.3L937.5,1391.0L939.5,1391.7L941.5,1392.4L943.5,1393.1L945.5,1393.7L947.5,1394.3L949.5,1394.9L951.5,1395.5L953.5,1396.0L955.5,1396.5L957.5,1397.0L959.5,1397.5L961.5,1398.0L963.5,1398.4L965.5,1398.8L967.5,1399.2L969.5,1399.5L971.5,1399.8L973.5,1400.1L975.5,1400.4L977.5,1400.6L979.5,1400.8L981.5,1401.1L983.5,1401.2L985.5,1401.4L987.5,1401.6L989.5,1401.8L991.5,1402.0L993.5,1402.2L995.5,1402.4L997.5,1402.6L999.5,1402.8L1001.5,1403.1L1003.5,1403.4L1005.5,1403.7L1007.5,1404.0L1009.5,1404.4L1011.5,1404.8L1013.5,1405.2L1015.5,1405.7L1017.5,1406.3L1019.5,1406.8L1021.5,1407.4L1023.5,1408.1L1025.5,1408.7L1027.5,1409.3L1029.5,1410.0L1031.5,1410.6L1033.5,1411.2L1035.5,1411.8L1037.5,1412.4L1039.5,1412.9L1041.5,1413.4L1043.5,1413.9L1045.5,1414.3L1047.5,1414.7L1049.5,1415.0L1051.5,1415.3L1053.5,1415.6L1055.5,1415.8L1057.5,1416.1L1059.5,1416.3L1061.5,1416.5L1063.5,1416.6L1065.5,1416.8L1067.5,1416.9L1069.5,1417.1L1071.5,1417.2L1073.5,1417.3L1075.5,1417.4L1077.5,1417.6L1079.5,1417.7L1081.5,1417.8L1083.5,1417.9L1085.5,1418.0L1087.5,1418.1L1089.5,1418.2L1091.5,1418.3L1093.5,1418.4L1095.5,1418.5L1097.5,1418.6L1099.5,1418.6L1101.5,1418.7L1103.5,1418.7L1105.5,1418.8L1107.5,1418.8L1109.5,1418.8L1111.5,1418.8L1113.5,1418.8L1115.5,1418.8L1117.5,1418.8L1119.5,1418.7L1121.5,1418.6L1123.5,1418.6L1125.5,1418.5L1127.5,1418.3L1129.5,1418.2L1131.5,1418.0L1133.5,1417.8L1135.5,1417.6L1137.5,1417.4L1139.5,1417.2L1141.5,1416.9L1143.5,1416.6L1145.5,1416.3L1147.5,1415.9L1149.5,1415.6L1151.5,1415.2L1153.5,1414.7L1155.5,1414.3L1157.5,1413.8L1159.5,1413.3L1161.5,1412.8L1163.5,1412.2L1165.5,1411.6L1167.5,1411.0L1169.5,1410.3L1171.5,1409.7L1173.5,1409.0L1175.5,1408.2L1177.5,1407.5L1179.5,1406.7L1181.5,1405.9L1183.5,1405.1L1185.5,1404.2L1187.5,1403.3L1189.5,1402.4L1191.5,1401.4L1193.5,1400.5L1195.5,1399.5L1197.5,1398.4L1199.5,1397.4L1201.5,1396.3L1203.5,1395.2L1205.5,1394.0L1207.5,1392.9L1209.5,1391.7L1211.5,1390.5L1213.5,1389.3L1215.5,1388.1L1217.5,1386.9L1219.5,1385.7L1221.5,1384.5L1223.5,1383.3L1225.5,1382.2L1227.5,1381.0L1229.5,1379.9L1231.5,1378.9L1233.5,1377.9L1235.5,1376.9L1237.5,1376.0L1239.5,1375.1L1241.5,1374.3L1243.5,1373.6L1245.5,1372.9L1247.5,1372.3L1249.5,1371.8L1251.5,1371.4L1253.5,1371.0L1255.5,1370.8L1257.5,1370.6L1259.5,1370.6L1261.5,1370.7L1263.5,1370.8L1265.5,1371.1L1267.5,1371.4L1269.5,1371.8L1271.5,1372.3L1273.5,1372.9L1275.5,1373.5L1277.5,1374.2L1279.5,1375.0L1281.5,1375.8L1283.5,1376.6L1285.5,1377.5L1287.5,1378.4L1289.5,1379.4L1291.5,1380.4L1293.5,1381.4L1295.5,1382.4L1297.5,1383.4L1299.5,1384.4L1301.5,1385.5L1303.5,1386.5L1305.5,1387.5L1307.5,1388.5L1309.5,1389.5L1311.5,1390.5L1313.5,1391.4L1315.5,1392.3L1317.5,1393.3L1319.5,1394.2L1321.5,1395.0L1323.5,1395.9L1325.5,1396.7L1327.5,1397.6L1329.5,1398.4L1331.5,1399.2L1333.5,1399.9L1335.5,1400.7L1337.5,1401.5L1339.5,1402.2L1341.5,1402.9L1343.5,1403.6L1345.5,1404.3L1347.5,1405.0L1349.5,1405.7L1351.5,1406.3L1353.5,1406.9L1355.5,1407.6L1357.5,1408.2L1359.5,1408.8L1361.5,1409.4L1363.5,1410.0L1365.5,1410.5L1367.5,1411.1L1369.5,1411.6L1371.5,1412.2L1373.5,1412.7L1375.5,1413.2L1377.5,1413.7L1379.5,1414.2L1381.5,1414.7L1383.5,1415.1L1385.5,1415.6L1387.5,1416.0L1389.5,1416.5L1391.5,1416.9L1393.5,1417.3L1395.5,1417.8L1397.5,1418.2L1399.5,1418.6L1401.5,1418.9L1403.5,1419.3L1405.5,1419.7L1407.5,1420.1L1409.5,1420.4L1411.5,1420.8L1413.5,1421.1L1415.5,1421.4L1417.5,1421.8L1419.5,1422.1L1421.5,1422.4L1423.5,1422.7L1425.5,1423.0L1427.5,1423.3L1429.5,1423.5L1431.5,1423.8L1433.5,1424.1L1435.5,1424.4L1437.5,1424.6L1439.5,1424.9L1441.5,1425.1L1443.5,1425.4L1445.5,1425.6L1447.5,1425.8L1449.5,1426.1L1451.5,1426.3L1453.5,1426.5L1455.5,1426.7L1457.5,1426.9L1459.5,1427.1L1461.5,1427.3L1463.5,1427.5L1465.5,1427.7L1467.5,1427.9L1469.5,1428.1L1471.5,1428.3L1473.5,1428.4L1475.5,1428.6L1477.5,1428.8L1479.5,1429.0L1481.5,1429.1L1483.5,1429.3L1485.5,1429.5L1487.5,1429.6L1489.5,1429.8L1491.5,1430.0L1493.5,1430.1L1495.5,1430.3L1497.5,1430.4L1499.5,1430.6L1501.5,1430.7L1503.5,1430.9L1505.5,1431.0L1507.5,1431.2L1509.5,1431.3L1511.5,1431.5L1513.5,1431.6L1515.5,1431.8L1517.5,1431.9L1519.5,1432.1L1521.5,1432.2L1523.5,1432.4L1525.5,1432.6L1527.5,1432.7L1529.5,1432.9L1531.5,1433.0L1533.5,1433.2L1535.5,1433.3L1537.5,1433.5L1539.5,1433.7L1541.5,1433.8L1543.5,1434.0L1545.5,1434.2L1547.5,1434.4L1549.5,1434.5L1551.5,1434.7L1553.5,1434.9L1555.5,1435.1L1557.5,1435.3L1559.5,1435.5L1561.5,1435.7L1563.5,1435.9L1565.5,1436.1L1567.5,1436.3L1569.5,1436.5L1571.5,1436.7L1573.5,1436.9L1575.5,1437.2L1577.5,1437.4L1579.5,1437.6L1581.5,1437.9L1583.5,1438.1L1585.5,1438.3L1587.5,1438.6L1589.5,1438.8L1591.5,1439.0L1593.5,1439.3L1595.5,1439.5L1597.5,1439.7L1599.5,1439.9L1601.5,1440.1L1603.5,1440.3L1605.5,1440.5L1607.5,1440.7L1609.5,1440.8L1611.5,1441.0L1613.5,1441.1L1615.5,1441.2L1617.5,1441.3L1619.5,1441.4L1621.5,1441.5L1623.5,1441.6L1625.5,1441.6L1627.5,1441.6L1629.5,1441.6L1631.5,1441.6L1633.5,1441.6L1635.5,1441.5L1637.5,1441.5L1639.5,1441.4L1641.5,1441.3L1643.5,1441.2L1645.5,1441.1L1647.5,1441.1L1649.5,1441.0L1651.5,1440.9L1653.5,1440.8L1655.5,1440.7L1657.5,1440.6L1659.5,1440.6L1661.5,1440.5L1663.5,1440.5L1665.5,1440.5L1667.5,1440.5L1669.5,1440.5L1671.5,1440.6L1673.5,1440.6L1675.5,1440.7L1677.5,1440.9L1679.5,1441.0L1681.5,1441.2L1683.5,1441.4L1685.5,1441.7L1687.5,1442.0L1689.5,1442.3L1691.5,1442.6L1693.5,1442.9L1695.5,1443.2L1697.5,1443.6L1699.5,1443.9L1701.5,1444.2L1703.5,1444.6L1705.5,1444.9L1707.5,1445.2L1709.5,1445.4L1711.5,1445.7L1713.5,1445.9L1715.5,1446.2L1717.5,1446.4L1719.5,1446.6L1721.5,1446.8L1723.5,1446.9L1725.5,1447.1L1727.5,1447.2L1729.5,1447.4L1731.5,1447.5L1733.5,1447.7L1735.5,1447.8L1737.5,1447.9L1739.5,1448.1L1741.5,1448.2L1743.5,1448.3L1745.5,1448.4L1747.5,1448.6L1749.5,1448.7L1751.5,1448.8L1753.5,1448.9L1755.5,1449.0L1757.5,1449.1L1759.5,1449.2L1761.5,1449.3L1763.5,1449.4L1765.5,1449.5L1767.5,1449.6L1769.5,1449.7L1771.5,1449.8L1773.5,1449.9L1775.5,1450.0L1777.5,1450.0L1779.5,1450.1L1781.5,1450.2L1783.5,1450.3L1785.5,1450.4L1787.5,1450.4L1789.5,1450.5L1791.5,1450.6L1793.5,1450.7L1795.5,1450.7L1797.5,1450.8L1799.5,1450.9L1801.5,1450.9L1803.5,1451.0L1805.5,1451.0L1807.5,1451.1L1809.5,1451.2L1811.5,1451.2L1813.5,1451.3L1815.5,1451.3L1817.5,1451.4L1819.5,1451.4L1821.5,1451.5L1823.5,1451.5L1825.5,1451.6L1827.5,1451.6L1829.5,1451.7L1831.5,1451.7L1833.5,1451.8L1835.5,1451.8L1837.5,1451.8L1839.5,1451.9L1841.5,1451.9L1843.5,1452.0L1845.5,1452.0L1847.5,1452.0L1849.5,1452.1L1851.5,1452.1L1853.5,1452.2L1855.5,1452.2L1857.5,1452.2L1859.5,1452.3L1861.5,1452.3L1863.5,1452.3L1865.5,1452.4L1867.5,1452.4L1869.5,1452.4L1871.5,1452.5L1873.5,1452.5L1875.5,1452.5L1877.5,1452.6L1879.5,1452.6L1881.5,1452.6L1883.5,1452.7L1885.5,1452.7L1887.5,1452.7L1889.5,1452.8L1891.5,1452.8L1893.5,1452.8L1895.5,1452.9L1897.5,1452.9L1899.5,1452.9L1901.5,1453.0L1903.5,1453.0L1905.5,1453.0L1907.5,1453.1L1909.5,1453.1L1911.5,1453.2L1913.5,1453.2L1915.5,1453.2L1917.5,1453.3L1919.5,1453.3L1921.5,1453.3L1923.5,1453.4L1925.5,1453.4L1927.5,1453.5L1929.5,1453.5L1931.5,1453.6L1933.5,1453.6L1935.5,1453.6L1937.5,1453.7L1939.5,1453.7L1941.5,1453.8L1943.5,1453.8L1945.5,1453.9L1947.5,1453.9L1949.5,1454.0L1951.5,1454.1L1953.5,1454.1L1955.5,1454.2L1957.5,1454.2L1959.5,1454.3L1961.5,1454.3L1963.5,1454.4L1965.5,1454.5L1967.5,1454.5L1969.5,1454.6L1971.5,1454.7L1973.5,1454.7L1975.5,1454.8L1977.5,1454.9L1979.5,1454.9L1981.5,1455.0L1983.5,1455.1L1985.5,1455.2L1987.5,1455.2L1989.5,1455.3L1991.5,1455.4L1993.5,1455.5L1995.5,1455.5L1997.5,1455.6L1999.5,1455.7L2001.5,1455.8L2003.5,1455.8L2005.5,1455.9L2007.5,1456.0L2009.5,1456.1L2011.5,1456.2L2013.5,1456.2L2015.5,1456.3L2017.5,1456.4L2019.5,1456.5L2021.5,1456.5L2023.5,1456.6L2025.5,1456.7L2027.5,1456.8L2029.5,1456.8L2031.5,1456.9L2033.5,1457.0L2035.5,1457.1L2037.5,1457.1L2039.5,1457.2L2041.5,1457.3L2043.5,1457.4L2045.5,1457.4L2047.5,1457.5L2049.5,1457.6L2051.5,1457.6L2053.5,1457.7L2055.5,1457.8L2057.5,1457.9L2059.5,1457.9L2061.5,1458.0L2063.5,1458.0L2065.5,1458.1L2067.5,1458.2L2069.5,1458.2L2071.5,1458.3L2073.5,1458.3L2075.5,1458.4L2077.5,1458.5L2079.5,1458.5L2081.5,1458.6L2083.5,1458.6L2085.5,1458.7L2087.5,1458.7L2089.5,1458.7L2091.5,1458.8L2093.5,1458.8L2095.5,1458.9L2097.5,1458.9L2099.5,1458.9L2101.5,1459.0L2103.5,1459.0L2105.5,1459.0L2107.5,1459.1L2109.5,1459.1L2111.5,1459.1L2113.5,1459.1L2115.5,1459.1L2117.5,1459.2L2119.5,1459.2L2121.5,1459.2L2123.5,1459.2L2125.5,1459.2L2127.5,1459.2L2129.5,1459.2L2131.5,1459.2L2133.5,1459.2L2135.5,1459.2L2137.5,1459.2L2139.5,1459.1L2141.5,1459.1L2143.5,1459.1L2145.5,1459.1L2147.5,1459.1L2149.5,1459.0L2151.5,1459.0L2153.5,1458.9L2155.5,1458.9L2157.5,1458.9L2159.5,1458.8L2161.5,1458.8L2163.5,1458.7L2165.5,1458.7L2167.5,1458.6L2169.5,1458.5L2171.5,1458.5L2173.5,1458.4L2175.5,1458.3L2177.5,1458.2L2179.5,1458.2L2181.5,1458.1L2183.5,1458.0L2185.5,1457.9L2187.5,1457.8L2189.5,1457.7L2191.5,1457.6L2193.5,1457.5L2195.5,1457.4L2197.5,1457.3L2199.5,1457.2L2201.5,1457.1L2203.5,1456.9L2205.5,1456.8L2207.5,1456.7L2209.5,1456.6L2211.5,1456.5L2213.5,1456.3L2215.5,1456.2L2217.5,1456.1L2219.5,1456.0L2221.5,1455.8L2223.5,1455.7L2225.5,1455.6L2227.5,1455.4L2229.5,1455.3L2231.5,1455.2L2233.5,1455.0L2235.5,1454.9L2237.5,1454.8L2239.5,1454.7L2241.5,1454.5L2243.5,1454.4L2245.5,1454.3L2247.5,1454.1L2249.5,1454.0L2251.5,1453.9L2253.5,1453.7L2255.5,1453.6L2257.5,1453.5L2259.5,1453.4L2261.5,1453.2L2263.5,1453.1L2265.5,1453.0L2267.5,1452.9L2269.5,1452.8L2271.5,1452.7L2273.5,1452.6L2275.5,1452.4L2277.5,1452.3L2279.5,1452.2L2281.5,1452.1L2283.5,1452.0L2285.5,1451.9L2287.5,1451.8L2289.5,1451.7L2291.5,1451.7L2293.5,1451.6L2295.5,1451.5L2297.5,1451.4L2299.5,1451.3L2301.5,1451.3L2303.5,1451.2L2305.5,1451.2L2307.5,1451.1L2309.5,1451.0L2311.5,1451.0L2313.5,1450.9L2315.5,1450.9L2317.5,1450.9L2319.5,1450.8L2321.5,1450.8L2323.5,1450.8L2325.5,1450.8L2327.5,1450.8L2329.5,1450.8L2331.5,1450.8L2333.5,1450.8L2335.5,1450.8L2337.5,1450.8L2339.5,1450.8L2341.5,1450.9L2343.5,1450.9L2345.5,1451.0L2347.5,1451.0L2349.5,1451.1L2351.5,1451.1L2353.5,1451.2" fill="none" stroke="#008000" stroke-width="3.5" stroke-linejoin="round"/>
<text transform="translate(255.5,1686.2) scale(0.965,1)" text-anchor="middle" font-family="'Liberation Serif','Times New Roman',serif" stroke="#000" stroke-width="0.6" font-size="82.4">10</text>
<text transform="translate(555.2,1686.2) scale(0.965,1)" text-anchor="middle" font-family="'Liberation Serif','Times New Roman',serif" stroke="#000" stroke-width="0.6" font-size="82.4">20</text>
<text transform="translate(854.9,1686.2) scale(0.965,1)" text-anchor="middle" font-family="'Liberation Serif','Times New Roman',serif" stroke="#000" stroke-width="0.6" font-size="82.4">30</text>
<text transform="translate(1154.6,1686.2) scale(0.965,1)" text-anchor="middle" font-family="'Liberation Serif','Times New Roman',serif" stroke="#000" stroke-width="0.6" font-size="82.4">40</text>
<text transform="translate(1454.4,1686.2) scale(0.965,1)" text-anchor="middle" font-family="'Liberation Serif','Times New Roman',serif" stroke="#000" stroke-width="0.6" font-size="82.4">50</text>
<text transform="translate(1754.1,1686.2) scale(0.965,1)" text-anchor="middle" font-family="'Liberation Serif','Times New Roman',serif" stroke="#000" stroke-width="0.6" font-size="82.4">60</text>
<text transform="translate(2053.8,1686.2) scale(0.965,1)" text-anchor="middle" font-family="'Liberation Serif','Times New Roman',serif" stroke="#000" stroke-width="0.6" font-size="82.4">70</text>
<text transform="translate(2353.5,1686.2) scale(0.965,1)" text-anchor="middle" font-family="'Liberation Serif','Times New Roman',serif" stroke="#000" stroke-width="0.6" font-size="82.4">80</text>
<text transform="translate(1304.5,1855.5) scale(0.965,1)" text-anchor="middle" font-family="'Liberation Serif','Times New Roman',serif" stroke="#000" stroke-width="0.6" font-size="108.5">2 theta (degree)</text>
<text transform="translate(101.5,873.4) rotate(-90) scale(0.9756,1)" text-anchor="middle" font-family="'Liberation Serif','Times New Roman',serif" stroke="#000" stroke-width="0.6" font-size="108.5">Intensity</text>
<text transform="translate(621,159.4) scale(0.945,1)" text-anchor="middle" font-family="'Liberation Serif','Times New Roman',serif" stroke="#000" stroke-width="0.6" font-size="75.8">C(002)</text>
<text transform="translate(1239.5,424.6) scale(0.945,1)" text-anchor="middle" font-family="'Liberation Serif','Times New Roman',serif" stroke="#000" stroke-width="0.6" font-size="75.8">C(10<tspan font-style="italic">l</tspan>)</text>
<rect x="1914" y="417" width="416.0" height="118.7" fill="#000"/>
<rect x="1892.0" y="395.0" width="415.0" height="117.5" fill="#fff" stroke="#000" stroke-width="4"/>
<text transform="translate(2100.7,479.1) scale(0.96,1)" text-anchor="middle" font-family="'Liberation Serif','Times New Roman',serif" stroke="#000" stroke-width="0.6" font-size="74.5">As-received</text>
<rect x="1985.9" y="648" width="346.9" height="119.7" fill="#000"/>
<rect x="1963.2" y="627.0" width="346.4" height="117.5" fill="#fff" stroke="#000" stroke-width="4"/>
<text transform="translate(2134.4,709.8) scale(0.96,1)" text-anchor="middle" font-family="'Liberation Serif','Times New Roman',serif" stroke="#000" stroke-width="0.6" font-size="74.5">PE-H-9-1</text>
<rect x="1982.8" y="867" width="346.9" height="118.7" fill="#000"/>
<rect x="1960.9" y="845.1" width="346.2" height="117.2" fill="#fff" stroke="#000" stroke-width="4"/>
<text transform="translate(2133.9,927.9) scale(0.96,1)" text-anchor="middle" font-family="'Liberation Serif','Times New Roman',serif" stroke="#000" stroke-width="0.6" font-size="74.5">PE-H-9-2</text>
<rect x="1982.8" y="1098" width="346.9" height="119.1" fill="#000"/>
<rect x="1960.9" y="1075.9" width="346.2" height="118.0" fill="#fff" stroke="#000" stroke-width="4"/>
<text transform="translate(2133.9,1159.8) scale(0.96,1)" text-anchor="middle" font-family="'Liberation Serif','Times New Roman',serif" stroke="#000" stroke-width="0.6" font-size="74.5">PE-H-9-3</text>
<rect x="1982.8" y="1324.9" width="346.9" height="118.9" fill="#000"/>
<rect x="1960.9" y="1303.0" width="346.2" height="117.8" fill="#fff" stroke="#000" stroke-width="4"/>
<text transform="translate(2133.9,1385.8) scale(0.96,1)" text-anchor="middle" font-family="'Liberation Serif','Times New Roman',serif" stroke="#000" stroke-width="0.6" font-size="74.5">PE-H-9-4</text>
</svg>
</body></html>
